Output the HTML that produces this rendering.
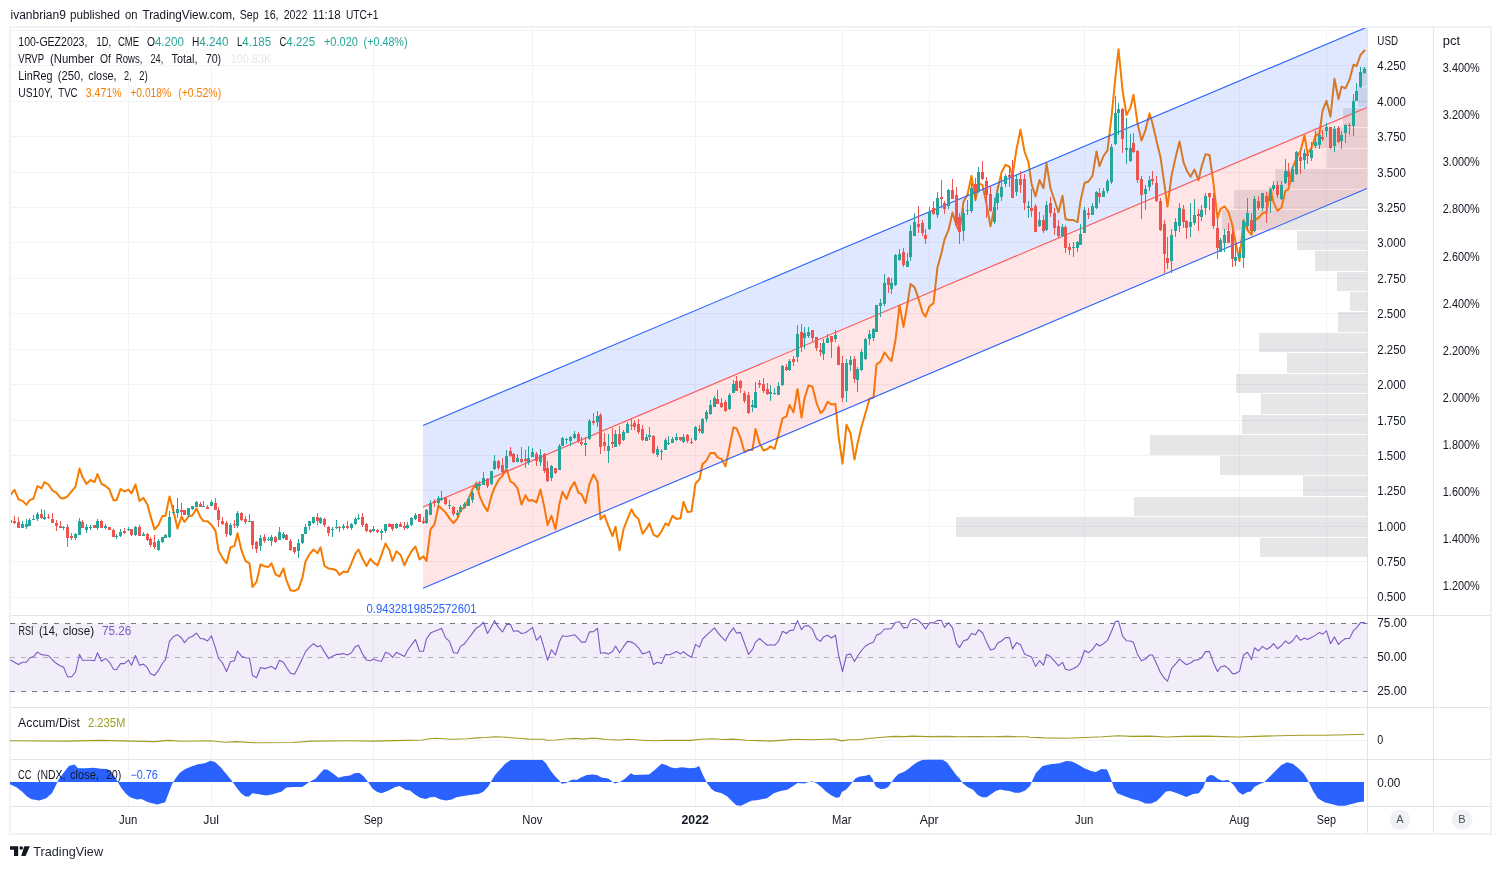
<!DOCTYPE html><html><head><meta charset="utf-8"><title>TradingView chart</title><style>html,body{margin:0;padding:0;background:#fff;overflow:hidden}body{width:1501px;height:869px;font-family:"Liberation Sans", sans-serif}svg{display:block;will-change:transform}</style></head><body><svg width="1501" height="869" viewBox="0 0 1501 869" font-family='"Liberation Sans", sans-serif'><rect x="10" y="27" width="1481.0" height="807.0" fill="#fff" stroke="#f0f1f6" stroke-width="2"/>
<line x1="128.50" y1="28.00" x2="128.50" y2="806.50" stroke="#f2f3f5" stroke-width="1"/>
<line x1="211.50" y1="28.00" x2="211.50" y2="806.50" stroke="#f2f3f5" stroke-width="1"/>
<line x1="373.50" y1="28.00" x2="373.50" y2="806.50" stroke="#f2f3f5" stroke-width="1"/>
<line x1="532.50" y1="28.00" x2="532.50" y2="806.50" stroke="#f2f3f5" stroke-width="1"/>
<line x1="695.50" y1="28.00" x2="695.50" y2="806.50" stroke="#f2f3f5" stroke-width="1"/>
<line x1="842.50" y1="28.00" x2="842.50" y2="806.50" stroke="#f2f3f5" stroke-width="1"/>
<line x1="929.50" y1="28.00" x2="929.50" y2="806.50" stroke="#f2f3f5" stroke-width="1"/>
<line x1="1084.50" y1="28.00" x2="1084.50" y2="806.50" stroke="#f2f3f5" stroke-width="1"/>
<line x1="1239.50" y1="28.00" x2="1239.50" y2="806.50" stroke="#f2f3f5" stroke-width="1"/>
<line x1="1326.50" y1="28.00" x2="1326.50" y2="806.50" stroke="#f2f3f5" stroke-width="1"/>
<line x1="11.00" y1="30.50" x2="1367.50" y2="30.50" stroke="#f2f3f5" stroke-width="1"/>
<line x1="11.00" y1="65.50" x2="1367.50" y2="65.50" stroke="#f2f3f5" stroke-width="1"/>
<line x1="11.00" y1="101.50" x2="1367.50" y2="101.50" stroke="#f2f3f5" stroke-width="1"/>
<line x1="11.00" y1="136.50" x2="1367.50" y2="136.50" stroke="#f2f3f5" stroke-width="1"/>
<line x1="11.00" y1="172.50" x2="1367.50" y2="172.50" stroke="#f2f3f5" stroke-width="1"/>
<line x1="11.00" y1="207.50" x2="1367.50" y2="207.50" stroke="#f2f3f5" stroke-width="1"/>
<line x1="11.00" y1="242.50" x2="1367.50" y2="242.50" stroke="#f2f3f5" stroke-width="1"/>
<line x1="11.00" y1="278.50" x2="1367.50" y2="278.50" stroke="#f2f3f5" stroke-width="1"/>
<line x1="11.00" y1="313.50" x2="1367.50" y2="313.50" stroke="#f2f3f5" stroke-width="1"/>
<line x1="11.00" y1="349.50" x2="1367.50" y2="349.50" stroke="#f2f3f5" stroke-width="1"/>
<line x1="11.00" y1="384.50" x2="1367.50" y2="384.50" stroke="#f2f3f5" stroke-width="1"/>
<line x1="11.00" y1="420.50" x2="1367.50" y2="420.50" stroke="#f2f3f5" stroke-width="1"/>
<line x1="11.00" y1="455.50" x2="1367.50" y2="455.50" stroke="#f2f3f5" stroke-width="1"/>
<line x1="11.00" y1="490.50" x2="1367.50" y2="490.50" stroke="#f2f3f5" stroke-width="1"/>
<line x1="11.00" y1="526.50" x2="1367.50" y2="526.50" stroke="#f2f3f5" stroke-width="1"/>
<line x1="11.00" y1="561.50" x2="1367.50" y2="561.50" stroke="#f2f3f5" stroke-width="1"/>
<line x1="11.00" y1="597.50" x2="1367.50" y2="597.50" stroke="#f2f3f5" stroke-width="1"/>
<line x1="11.00" y1="740.50" x2="1367.50" y2="740.50" stroke="#f2f3f5" stroke-width="1"/>
<g fill="#787b86" fill-opacity="0.19" shape-rendering="crispEdges">
<rect x="1362" y="67" width="5" height="19"/>
<rect x="1358" y="87" width="9" height="20"/>
<rect x="1343" y="108" width="24" height="19"/>
<rect x="1314" y="128" width="53" height="20"/>
<rect x="1327" y="149" width="40" height="19"/>
<rect x="1275" y="169" width="92" height="20"/>
<rect x="1234" y="190" width="133" height="19"/>
<rect x="1222" y="210" width="145" height="20"/>
<rect x="1297" y="231" width="70" height="19"/>
<rect x="1315" y="251" width="52" height="20"/>
<rect x="1337" y="272" width="30" height="19"/>
<rect x="1350" y="292" width="17" height="19"/>
<rect x="1338" y="312" width="29" height="20"/>
<rect x="1259" y="333" width="108" height="19"/>
<rect x="1287" y="353" width="80" height="20"/>
<rect x="1236" y="374" width="131" height="19"/>
<rect x="1261" y="394" width="106" height="20"/>
<rect x="1242" y="415" width="125" height="19"/>
<rect x="1150" y="435" width="217" height="20"/>
<rect x="1220" y="456" width="147" height="19"/>
<rect x="1303" y="476" width="64" height="20"/>
<rect x="1134" y="497" width="233" height="19"/>
<rect x="956" y="517" width="411" height="20"/>
<rect x="1260" y="538" width="107" height="19"/>
</g>
<clipPath id="cm"><rect x="11" y="28" width="1356.6" height="587"/></clipPath>
<g clip-path="url(#cm)">
<polyline points="10.5,495.0 14.5,489.9 18.5,499.4 22.5,500.9 26.5,504.8 29.5,500.3 33.5,498.5 37.5,486.0 41.5,488.4 44.5,482.1 48.5,484.5 52.5,490.5 56.5,492.9 60.5,497.9 63.5,498.5 67.5,496.4 75.5,486.6 79.5,468.6 82.5,477.0 86.5,483.9 90.5,480.0 94.5,482.1 97.5,474.0 101.5,483.9 105.5,486.0 109.5,489.6 113.5,500.3 116.5,500.3 120.5,489.0 124.5,491.4 128.5,489.6 131.5,493.5 135.5,484.5 139.5,500.9 143.5,497.9 147.5,504.8 150.5,515.9 154.5,529.4 158.5,524.9 162.5,515.9 165.5,515.9 169.5,496.4 173.5,511.4 177.5,528.5 181.5,516.5 184.5,521.9 188.5,516.5 192.5,515.3 196.5,508.4 200.5,517.4 203.5,521.0 207.5,521.3 211.5,524.9 215.5,530.9 218.5,550.4 222.5,557.9 226.5,563.3 230.5,547.4 234.5,545.9 237.5,533.3 241.5,550.4 245.5,560.9 249.5,563.3 252.5,587.0 256.5,581.9 260.5,564.5 264.5,566.3 268.5,566.9 271.5,563.3 275.5,574.4 279.5,576.5 283.5,568.4 286.5,580.4 290.5,590.3 294.5,590.9 298.5,588.8 302.5,577.4 305.5,561.5 309.5,554.3 313.5,549.5 317.5,553.4 320.5,547.4 324.5,566.0 328.5,568.4 332.5,569.0 336.5,570.5 339.5,575.0 343.5,571.4 347.5,572.3 351.5,563.3 355.5,553.4 358.5,549.5 362.5,558.5 366.5,566.0 370.5,558.8 373.5,562.4 377.5,565.4 381.5,554.9 385.5,543.5 389.5,550.4 392.5,560.9 396.5,551.3 400.5,554.9 404.5,565.4 407.5,558.5 411.5,551.3 415.5,546.5 419.5,559.4 423.5,556.4 426.5,560.9 430.5,529.4 434.5,524.3 438.5,505.7 445.5,512.4 449.5,518.4 453.5,523.2 457.5,518.4 460.5,509.7 464.5,507.9 468.5,498.9 472.5,489.2 476.5,482.7 479.5,495.9 483.5,504.9 487.5,511.2 491.5,495.9 494.5,487.7 498.5,480.2 502.5,475.7 506.5,468.7 510.5,481.7 513.5,483.2 517.5,488.4 521.5,504.6 525.5,495.2 528.5,500.7 532.5,500.1 536.5,502.4 540.5,489.6 544.5,507.9 547.5,525.2 551.5,515.7 555.5,529.2 559.5,503.4 562.5,491.7 566.5,498.9 570.5,488.4 574.5,482.1 578.5,492.9 581.5,494.1 585.5,503.1 589.5,483.9 593.5,474.5 597.5,481.7 600.5,519.2 604.5,515.3 608.5,526.3 612.5,536.2 615.5,526.9 619.5,550.3 623.5,529.3 627.5,518.9 631.5,509.3 634.5,515.3 638.5,518.9 642.5,533.8 646.5,528.4 649.5,523.4 653.5,534.7 657.5,536.8 661.5,531.4 665.5,523.4 668.5,525.4 672.5,515.9 676.5,518.9 680.5,518.3 683.5,501.8 687.5,512.0 691.5,511.4 695.5,483.5 699.5,479.3 702.5,464.3 706.5,460.4 710.5,452.9 714.5,452.9 717.5,457.4 721.5,458.9 725.5,466.4 729.5,446.9 733.5,427.4 736.5,428.3 740.5,437.9 744.5,452.0 748.5,449.9 752.5,449.9 755.5,428.9 759.5,443.3 763.5,450.5 767.5,449.0 770.5,446.3 774.5,449.0 778.5,434.9 782.5,418.4 786.5,416.3 789.5,404.9 793.5,412.4 797.5,389.0 801.5,417.6 804.5,398.5 808.5,385.4 812.5,386.8 816.5,403.0 820.5,413.0 823.5,410.5 827.5,401.9 831.5,404.5 835.5,404.0 838.5,435.9 842.5,463.7 846.5,424.7 850.5,433.2 854.5,459.6 857.5,443.4 861.5,426.9 865.5,413.0 869.5,398.8 873.5,397.7 876.5,364.3 880.5,361.7 884.5,352.3 888.5,358.0 891.5,361.0 895.5,340.0 899.5,305.4 903.5,326.9 907.5,303.9 910.5,284.1 914.5,287.1 918.5,298.7 922.5,312.2 925.5,316.7 929.5,306.2 933.5,303.2 937.5,267.2 941.5,253.0 944.5,239.5 948.5,230.2 952.5,212.5 956.5,225.7 959.5,231.7 963.5,201.7 967.5,194.5 971.5,175.8 975.5,200.2 978.5,183.0 982.5,185.2 986.5,203.9 990.5,226.4 994.5,206.9 997.5,189.7 1001.5,172.5 1005.5,164.7 1009.5,166.8 1012.5,176.2 1016.5,149.2 1020.5,129.7 1024.5,151.5 1028.5,162.4 1031.5,183.7 1035.5,196.4 1039.5,180.0 1043.5,188.2 1046.5,163.5 1050.5,188.2 1054.5,200.2 1058.5,212.2 1062.5,195.7 1065.5,219.2 1069.5,220.1 1073.5,220.1 1077.5,222.2 1080.5,200.9 1084.5,183.0 1088.5,181.5 1092.5,175.8 1096.5,151.5 1099.5,166.2 1103.5,156.0 1107.5,150.4 1111.5,116.9 1115.5,76.5 1118.5,49.2 1122.5,90.0 1126.5,115.1 1130.5,107.6 1133.5,94.8 1137.5,123.2 1141.5,140.6 1145.5,130.1 1149.5,113.2 1152.5,123.5 1156.5,140.7 1160.5,157.2 1164.5,184.9 1167.5,206.7 1171.5,175.9 1175.5,157.9 1179.5,141.5 1183.5,162.1 1186.5,169.9 1190.5,176.7 1194.5,169.5 1198.5,180.4 1201.5,166.9 1205.5,154.2 1209.5,155.0 1213.5,183.5 1217.5,218.0 1220.5,209.0 1224.5,206.3 1228.5,212.0 1232.5,225.8 1235.5,242.0 1239.5,260.7 1243.5,220.2 1247.5,230.0 1251.5,234.8 1254.5,220.2 1258.5,218.0 1262.5,213.2 1266.5,212.0 1270.5,188.3 1273.5,202.2 1277.5,210.8 1281.5,207.5 1285.5,190.6 1288.5,189.3 1292.5,168.0 1296.5,158.4 1300.5,150.9 1304.5,135.3 1307.5,153.3 1311.5,148.0 1315.5,135.9 1319.5,133.0 1322.5,111.2 1326.5,100.7 1330.5,116.7 1334.5,78.7 1338.5,99.2 1341.5,86.8 1345.5,88.3 1349.5,79.7 1353.5,64.7 1356.5,66.2 1360.5,55.0 1364.5,50.5" fill="none" stroke="#f57c00" stroke-width="2" stroke-linejoin="round" stroke-linecap="round"/>
<polygon points="423.0,425.4 1367.5,26.9 1367.5,107.3 423.0,506.9" fill="#2962ff" fill-opacity="0.15"/>
<polygon points="423.0,506.9 1367.5,107.3 1367.5,188.2 423.0,588.2" fill="#ff5252" fill-opacity="0.15"/>
<line x1="423.00" y1="425.40" x2="1367.50" y2="26.90" stroke="#2962ff" stroke-width="1.1"/>
<line x1="423.00" y1="588.20" x2="1367.50" y2="188.20" stroke="#2962ff" stroke-width="1.1"/>
<line x1="423.00" y1="506.90" x2="1367.50" y2="107.30" stroke="#ff5252" stroke-width="1.1"/>
<line x1="1359.00" y1="101.50" x2="1367.00" y2="101.50" stroke="#ef5350" stroke-width="1" stroke-dasharray="1 1" stroke-opacity="0.35"/>
<g shape-rendering="crispEdges">
<rect x="10" y="519" width="1" height="6" fill="#ef5350"/>
<rect x="9" y="520" width="3" height="3" fill="#ef5350"/>
<rect x="14" y="516" width="1" height="8" fill="#ef5350"/>
<rect x="13" y="521" width="3" height="2" fill="#ef5350"/>
<rect x="18" y="517" width="1" height="11" fill="#ef5350"/>
<rect x="17" y="522" width="3" height="6" fill="#ef5350"/>
<rect x="22" y="521" width="1" height="7" fill="#26a69a"/>
<rect x="21" y="524" width="3" height="4" fill="#26a69a"/>
<rect x="26" y="519" width="1" height="10" fill="#26a69a"/>
<rect x="25" y="524" width="3" height="3" fill="#26a69a"/>
<rect x="29" y="518" width="1" height="8" fill="#26a69a"/>
<rect x="28" y="520" width="3" height="6" fill="#26a69a"/>
<rect x="33" y="515" width="1" height="5" fill="#26a69a"/>
<rect x="32" y="519" width="3" height="1" fill="#26a69a"/>
<rect x="37" y="512" width="1" height="9" fill="#26a69a"/>
<rect x="36" y="514" width="3" height="5" fill="#26a69a"/>
<rect x="41" y="509" width="1" height="10" fill="#ef5350"/>
<rect x="40" y="514" width="3" height="4" fill="#ef5350"/>
<rect x="44" y="510" width="1" height="10" fill="#26a69a"/>
<rect x="43" y="517" width="3" height="2" fill="#26a69a"/>
<rect x="48" y="514" width="1" height="5" fill="#ef5350"/>
<rect x="47" y="517" width="3" height="1" fill="#ef5350"/>
<rect x="52" y="513" width="1" height="10" fill="#ef5350"/>
<rect x="51" y="519" width="3" height="4" fill="#ef5350"/>
<rect x="56" y="520" width="1" height="11" fill="#ef5350"/>
<rect x="55" y="523" width="3" height="3" fill="#ef5350"/>
<rect x="60" y="521" width="1" height="7" fill="#ef5350"/>
<rect x="59" y="526" width="3" height="2" fill="#ef5350"/>
<rect x="63" y="526" width="1" height="4" fill="#26a69a"/>
<rect x="62" y="527" width="3" height="1" fill="#26a69a"/>
<rect x="67" y="524" width="1" height="23" fill="#ef5350"/>
<rect x="66" y="527" width="3" height="11" fill="#ef5350"/>
<rect x="71" y="533" width="1" height="7" fill="#ef5350"/>
<rect x="70" y="536" width="3" height="2" fill="#ef5350"/>
<rect x="75" y="533" width="1" height="7" fill="#26a69a"/>
<rect x="74" y="534" width="3" height="4" fill="#26a69a"/>
<rect x="79" y="518" width="1" height="17" fill="#26a69a"/>
<rect x="78" y="521" width="3" height="14" fill="#26a69a"/>
<rect x="82" y="520" width="1" height="8" fill="#ef5350"/>
<rect x="81" y="522" width="3" height="6" fill="#ef5350"/>
<rect x="86" y="524" width="1" height="9" fill="#26a69a"/>
<rect x="85" y="527" width="3" height="3" fill="#26a69a"/>
<rect x="90" y="525" width="1" height="5" fill="#26a69a"/>
<rect x="89" y="527" width="3" height="1" fill="#26a69a"/>
<rect x="94" y="525" width="1" height="3" fill="#ef5350"/>
<rect x="93" y="525" width="3" height="3" fill="#ef5350"/>
<rect x="97" y="519" width="1" height="11" fill="#26a69a"/>
<rect x="96" y="521" width="3" height="7" fill="#26a69a"/>
<rect x="101" y="520" width="1" height="8" fill="#ef5350"/>
<rect x="100" y="521" width="3" height="7" fill="#ef5350"/>
<rect x="105" y="524" width="1" height="5" fill="#26a69a"/>
<rect x="104" y="526" width="3" height="2" fill="#26a69a"/>
<rect x="109" y="527" width="1" height="3" fill="#ef5350"/>
<rect x="108" y="527" width="3" height="3" fill="#ef5350"/>
<rect x="113" y="529" width="1" height="8" fill="#ef5350"/>
<rect x="112" y="530" width="3" height="7" fill="#ef5350"/>
<rect x="116" y="534" width="1" height="5" fill="#26a69a"/>
<rect x="115" y="536" width="3" height="1" fill="#26a69a"/>
<rect x="120" y="529" width="1" height="8" fill="#26a69a"/>
<rect x="119" y="532" width="3" height="4" fill="#26a69a"/>
<rect x="124" y="528" width="1" height="6" fill="#ef5350"/>
<rect x="123" y="531" width="3" height="2" fill="#ef5350"/>
<rect x="128" y="527" width="1" height="4" fill="#26a69a"/>
<rect x="127" y="529" width="3" height="1" fill="#26a69a"/>
<rect x="131" y="529" width="1" height="7" fill="#ef5350"/>
<rect x="130" y="529" width="3" height="6" fill="#ef5350"/>
<rect x="135" y="526" width="1" height="10" fill="#26a69a"/>
<rect x="134" y="527" width="3" height="8" fill="#26a69a"/>
<rect x="139" y="525" width="1" height="11" fill="#ef5350"/>
<rect x="138" y="527" width="3" height="9" fill="#ef5350"/>
<rect x="143" y="532" width="1" height="4" fill="#26a69a"/>
<rect x="142" y="534" width="3" height="2" fill="#26a69a"/>
<rect x="147" y="533" width="1" height="8" fill="#ef5350"/>
<rect x="146" y="534" width="3" height="6" fill="#ef5350"/>
<rect x="150" y="537" width="1" height="10" fill="#ef5350"/>
<rect x="149" y="539" width="3" height="6" fill="#ef5350"/>
<rect x="154" y="535" width="1" height="14" fill="#ef5350"/>
<rect x="153" y="542" width="3" height="5" fill="#ef5350"/>
<rect x="158" y="539" width="1" height="12" fill="#26a69a"/>
<rect x="157" y="541" width="3" height="9" fill="#26a69a"/>
<rect x="162" y="537" width="1" height="6" fill="#26a69a"/>
<rect x="161" y="537" width="3" height="5" fill="#26a69a"/>
<rect x="165" y="534" width="1" height="4" fill="#26a69a"/>
<rect x="164" y="535" width="3" height="3" fill="#26a69a"/>
<rect x="169" y="511" width="1" height="27" fill="#26a69a"/>
<rect x="168" y="517" width="3" height="20" fill="#26a69a"/>
<rect x="173" y="505" width="1" height="10" fill="#26a69a"/>
<rect x="172" y="512" width="3" height="1" fill="#26a69a"/>
<rect x="177" y="498" width="1" height="20" fill="#26a69a"/>
<rect x="176" y="509" width="3" height="4" fill="#26a69a"/>
<rect x="181" y="503" width="1" height="12" fill="#ef5350"/>
<rect x="180" y="510" width="3" height="2" fill="#ef5350"/>
<rect x="184" y="510" width="1" height="5" fill="#ef5350"/>
<rect x="183" y="510" width="3" height="5" fill="#ef5350"/>
<rect x="188" y="508" width="1" height="9" fill="#26a69a"/>
<rect x="187" y="508" width="3" height="7" fill="#26a69a"/>
<rect x="192" y="506" width="1" height="4" fill="#26a69a"/>
<rect x="191" y="506" width="3" height="3" fill="#26a69a"/>
<rect x="196" y="501" width="1" height="6" fill="#26a69a"/>
<rect x="195" y="502" width="3" height="5" fill="#26a69a"/>
<rect x="200" y="502" width="1" height="5" fill="#ef5350"/>
<rect x="199" y="504" width="3" height="3" fill="#ef5350"/>
<rect x="203" y="501" width="1" height="6" fill="#26a69a"/>
<rect x="202" y="506" width="3" height="1" fill="#26a69a"/>
<rect x="207" y="505" width="1" height="4" fill="#ef5350"/>
<rect x="206" y="507" width="3" height="2" fill="#ef5350"/>
<rect x="211" y="500" width="1" height="6" fill="#26a69a"/>
<rect x="210" y="502" width="3" height="4" fill="#26a69a"/>
<rect x="215" y="498" width="1" height="12" fill="#ef5350"/>
<rect x="214" y="503" width="3" height="7" fill="#ef5350"/>
<rect x="218" y="507" width="1" height="20" fill="#ef5350"/>
<rect x="217" y="510" width="3" height="10" fill="#ef5350"/>
<rect x="222" y="517" width="1" height="8" fill="#ef5350"/>
<rect x="221" y="521" width="3" height="3" fill="#ef5350"/>
<rect x="226" y="521" width="1" height="16" fill="#ef5350"/>
<rect x="225" y="523" width="3" height="11" fill="#ef5350"/>
<rect x="230" y="523" width="1" height="13" fill="#26a69a"/>
<rect x="229" y="525" width="3" height="10" fill="#26a69a"/>
<rect x="234" y="520" width="1" height="8" fill="#ef5350"/>
<rect x="233" y="524" width="3" height="1" fill="#ef5350"/>
<rect x="237" y="511" width="1" height="17" fill="#26a69a"/>
<rect x="236" y="513" width="3" height="13" fill="#26a69a"/>
<rect x="241" y="512" width="1" height="9" fill="#ef5350"/>
<rect x="240" y="513" width="3" height="7" fill="#ef5350"/>
<rect x="245" y="516" width="1" height="8" fill="#ef5350"/>
<rect x="244" y="519" width="3" height="3" fill="#ef5350"/>
<rect x="249" y="514" width="1" height="8" fill="#26a69a"/>
<rect x="248" y="521" width="3" height="1" fill="#26a69a"/>
<rect x="252" y="521" width="1" height="28" fill="#ef5350"/>
<rect x="251" y="521" width="3" height="24" fill="#ef5350"/>
<rect x="256" y="541" width="1" height="12" fill="#ef5350"/>
<rect x="255" y="542" width="3" height="7" fill="#ef5350"/>
<rect x="260" y="535" width="1" height="16" fill="#26a69a"/>
<rect x="259" y="538" width="3" height="8" fill="#26a69a"/>
<rect x="264" y="534" width="1" height="9" fill="#ef5350"/>
<rect x="263" y="537" width="3" height="4" fill="#ef5350"/>
<rect x="268" y="537" width="1" height="4" fill="#26a69a"/>
<rect x="267" y="539" width="3" height="1" fill="#26a69a"/>
<rect x="271" y="535" width="1" height="11" fill="#26a69a"/>
<rect x="270" y="537" width="3" height="4" fill="#26a69a"/>
<rect x="275" y="536" width="1" height="7" fill="#ef5350"/>
<rect x="274" y="537" width="3" height="5" fill="#ef5350"/>
<rect x="279" y="527" width="1" height="13" fill="#26a69a"/>
<rect x="278" y="532" width="3" height="8" fill="#26a69a"/>
<rect x="283" y="532" width="1" height="7" fill="#26a69a"/>
<rect x="282" y="534" width="3" height="4" fill="#26a69a"/>
<rect x="286" y="534" width="1" height="6" fill="#ef5350"/>
<rect x="285" y="535" width="3" height="5" fill="#ef5350"/>
<rect x="290" y="539" width="1" height="12" fill="#ef5350"/>
<rect x="289" y="541" width="3" height="9" fill="#ef5350"/>
<rect x="294" y="547" width="1" height="7" fill="#ef5350"/>
<rect x="293" y="547" width="3" height="5" fill="#ef5350"/>
<rect x="298" y="539" width="1" height="19" fill="#26a69a"/>
<rect x="297" y="543" width="3" height="8" fill="#26a69a"/>
<rect x="302" y="534" width="1" height="10" fill="#26a69a"/>
<rect x="301" y="534" width="3" height="9" fill="#26a69a"/>
<rect x="305" y="524" width="1" height="10" fill="#26a69a"/>
<rect x="304" y="527" width="3" height="7" fill="#26a69a"/>
<rect x="309" y="521" width="1" height="9" fill="#26a69a"/>
<rect x="308" y="521" width="3" height="5" fill="#26a69a"/>
<rect x="313" y="517" width="1" height="7" fill="#26a69a"/>
<rect x="312" y="517" width="3" height="6" fill="#26a69a"/>
<rect x="317" y="513" width="1" height="12" fill="#ef5350"/>
<rect x="316" y="517" width="3" height="4" fill="#ef5350"/>
<rect x="320" y="517" width="1" height="7" fill="#26a69a"/>
<rect x="319" y="518" width="3" height="5" fill="#26a69a"/>
<rect x="324" y="518" width="1" height="9" fill="#ef5350"/>
<rect x="323" y="519" width="3" height="6" fill="#ef5350"/>
<rect x="328" y="526" width="1" height="10" fill="#ef5350"/>
<rect x="327" y="527" width="3" height="6" fill="#ef5350"/>
<rect x="332" y="527" width="1" height="10" fill="#26a69a"/>
<rect x="331" y="529" width="3" height="1" fill="#26a69a"/>
<rect x="336" y="520" width="1" height="9" fill="#26a69a"/>
<rect x="335" y="527" width="3" height="1" fill="#26a69a"/>
<rect x="339" y="526" width="1" height="6" fill="#ef5350"/>
<rect x="338" y="527" width="3" height="1" fill="#ef5350"/>
<rect x="343" y="524" width="1" height="6" fill="#26a69a"/>
<rect x="342" y="526" width="3" height="2" fill="#26a69a"/>
<rect x="347" y="521" width="1" height="8" fill="#ef5350"/>
<rect x="346" y="526" width="3" height="2" fill="#ef5350"/>
<rect x="351" y="523" width="1" height="7" fill="#26a69a"/>
<rect x="350" y="524" width="3" height="4" fill="#26a69a"/>
<rect x="355" y="517" width="1" height="8" fill="#26a69a"/>
<rect x="354" y="519" width="3" height="5" fill="#26a69a"/>
<rect x="358" y="514" width="1" height="6" fill="#26a69a"/>
<rect x="357" y="518" width="3" height="1" fill="#26a69a"/>
<rect x="362" y="513" width="1" height="14" fill="#ef5350"/>
<rect x="361" y="517" width="3" height="8" fill="#ef5350"/>
<rect x="366" y="523" width="1" height="9" fill="#ef5350"/>
<rect x="365" y="524" width="3" height="7" fill="#ef5350"/>
<rect x="370" y="529" width="1" height="4" fill="#ef5350"/>
<rect x="369" y="530" width="3" height="2" fill="#ef5350"/>
<rect x="373" y="526" width="1" height="6" fill="#26a69a"/>
<rect x="372" y="529" width="3" height="2" fill="#26a69a"/>
<rect x="377" y="529" width="1" height="4" fill="#ef5350"/>
<rect x="376" y="530" width="3" height="2" fill="#ef5350"/>
<rect x="381" y="529" width="1" height="11" fill="#26a69a"/>
<rect x="380" y="531" width="3" height="2" fill="#26a69a"/>
<rect x="385" y="524" width="1" height="9" fill="#26a69a"/>
<rect x="384" y="524" width="3" height="7" fill="#26a69a"/>
<rect x="389" y="523" width="1" height="4" fill="#ef5350"/>
<rect x="388" y="524" width="3" height="3" fill="#ef5350"/>
<rect x="392" y="524" width="1" height="7" fill="#ef5350"/>
<rect x="391" y="524" width="3" height="5" fill="#ef5350"/>
<rect x="396" y="523" width="1" height="6" fill="#26a69a"/>
<rect x="395" y="524" width="3" height="4" fill="#26a69a"/>
<rect x="400" y="522" width="1" height="5" fill="#ef5350"/>
<rect x="399" y="524" width="3" height="3" fill="#ef5350"/>
<rect x="404" y="522" width="1" height="8" fill="#ef5350"/>
<rect x="403" y="526" width="3" height="2" fill="#ef5350"/>
<rect x="407" y="522" width="1" height="7" fill="#26a69a"/>
<rect x="406" y="525" width="3" height="3" fill="#26a69a"/>
<rect x="411" y="517" width="1" height="9" fill="#26a69a"/>
<rect x="410" y="518" width="3" height="7" fill="#26a69a"/>
<rect x="415" y="513" width="1" height="7" fill="#26a69a"/>
<rect x="414" y="515" width="3" height="4" fill="#26a69a"/>
<rect x="419" y="514" width="1" height="8" fill="#ef5350"/>
<rect x="418" y="514" width="3" height="8" fill="#ef5350"/>
<rect x="423" y="517" width="1" height="7" fill="#ef5350"/>
<rect x="422" y="521" width="3" height="2" fill="#ef5350"/>
<rect x="426" y="509" width="1" height="15" fill="#26a69a"/>
<rect x="425" y="510" width="3" height="13" fill="#26a69a"/>
<rect x="430" y="500" width="1" height="15" fill="#26a69a"/>
<rect x="429" y="503" width="3" height="12" fill="#26a69a"/>
<rect x="434" y="499" width="1" height="8" fill="#ef5350"/>
<rect x="433" y="501" width="3" height="2" fill="#ef5350"/>
<rect x="438" y="496" width="1" height="9" fill="#26a69a"/>
<rect x="437" y="498" width="3" height="5" fill="#26a69a"/>
<rect x="441" y="491" width="1" height="10" fill="#26a69a"/>
<rect x="440" y="498" width="3" height="2" fill="#26a69a"/>
<rect x="445" y="497" width="1" height="8" fill="#ef5350"/>
<rect x="444" y="497" width="3" height="7" fill="#ef5350"/>
<rect x="449" y="500" width="1" height="9" fill="#26a69a"/>
<rect x="448" y="505" width="3" height="1" fill="#26a69a"/>
<rect x="453" y="506" width="1" height="10" fill="#ef5350"/>
<rect x="452" y="507" width="3" height="7" fill="#ef5350"/>
<rect x="457" y="510" width="1" height="7" fill="#26a69a"/>
<rect x="456" y="513" width="3" height="2" fill="#26a69a"/>
<rect x="460" y="505" width="1" height="7" fill="#26a69a"/>
<rect x="459" y="507" width="3" height="5" fill="#26a69a"/>
<rect x="464" y="502" width="1" height="6" fill="#26a69a"/>
<rect x="463" y="504" width="3" height="4" fill="#26a69a"/>
<rect x="468" y="497" width="1" height="9" fill="#26a69a"/>
<rect x="467" y="499" width="3" height="7" fill="#26a69a"/>
<rect x="472" y="491" width="1" height="12" fill="#26a69a"/>
<rect x="471" y="493" width="3" height="7" fill="#26a69a"/>
<rect x="476" y="484" width="1" height="6" fill="#26a69a"/>
<rect x="475" y="485" width="3" height="3" fill="#26a69a"/>
<rect x="479" y="481" width="1" height="9" fill="#26a69a"/>
<rect x="478" y="484" width="3" height="2" fill="#26a69a"/>
<rect x="483" y="472" width="1" height="13" fill="#26a69a"/>
<rect x="482" y="478" width="3" height="7" fill="#26a69a"/>
<rect x="487" y="478" width="1" height="10" fill="#ef5350"/>
<rect x="486" y="479" width="3" height="7" fill="#ef5350"/>
<rect x="491" y="471" width="1" height="14" fill="#26a69a"/>
<rect x="490" y="471" width="3" height="13" fill="#26a69a"/>
<rect x="494" y="455" width="1" height="15" fill="#26a69a"/>
<rect x="493" y="461" width="3" height="8" fill="#26a69a"/>
<rect x="498" y="460" width="1" height="10" fill="#ef5350"/>
<rect x="497" y="461" width="3" height="7" fill="#ef5350"/>
<rect x="502" y="458" width="1" height="15" fill="#ef5350"/>
<rect x="501" y="465" width="3" height="7" fill="#ef5350"/>
<rect x="506" y="450" width="1" height="19" fill="#26a69a"/>
<rect x="505" y="456" width="3" height="12" fill="#26a69a"/>
<rect x="510" y="447" width="1" height="10" fill="#ef5350"/>
<rect x="509" y="451" width="3" height="5" fill="#ef5350"/>
<rect x="513" y="453" width="1" height="10" fill="#ef5350"/>
<rect x="512" y="454" width="3" height="8" fill="#ef5350"/>
<rect x="517" y="454" width="1" height="8" fill="#26a69a"/>
<rect x="516" y="458" width="3" height="4" fill="#26a69a"/>
<rect x="521" y="447" width="1" height="16" fill="#ef5350"/>
<rect x="520" y="459" width="3" height="3" fill="#ef5350"/>
<rect x="525" y="450" width="1" height="18" fill="#ef5350"/>
<rect x="524" y="459" width="3" height="2" fill="#ef5350"/>
<rect x="528" y="446" width="1" height="19" fill="#26a69a"/>
<rect x="527" y="458" width="3" height="5" fill="#26a69a"/>
<rect x="532" y="448" width="1" height="9" fill="#26a69a"/>
<rect x="531" y="452" width="3" height="5" fill="#26a69a"/>
<rect x="536" y="452" width="1" height="14" fill="#ef5350"/>
<rect x="535" y="454" width="3" height="7" fill="#ef5350"/>
<rect x="540" y="449" width="1" height="17" fill="#26a69a"/>
<rect x="539" y="455" width="3" height="7" fill="#26a69a"/>
<rect x="544" y="453" width="1" height="20" fill="#ef5350"/>
<rect x="543" y="454" width="3" height="17" fill="#ef5350"/>
<rect x="547" y="461" width="1" height="21" fill="#ef5350"/>
<rect x="546" y="468" width="3" height="13" fill="#ef5350"/>
<rect x="551" y="465" width="1" height="16" fill="#26a69a"/>
<rect x="550" y="466" width="3" height="12" fill="#26a69a"/>
<rect x="555" y="468" width="1" height="6" fill="#ef5350"/>
<rect x="554" y="468" width="3" height="5" fill="#ef5350"/>
<rect x="559" y="444" width="1" height="26" fill="#26a69a"/>
<rect x="558" y="446" width="3" height="24" fill="#26a69a"/>
<rect x="562" y="437" width="1" height="9" fill="#26a69a"/>
<rect x="561" y="438" width="3" height="8" fill="#26a69a"/>
<rect x="566" y="438" width="1" height="6" fill="#26a69a"/>
<rect x="565" y="439" width="3" height="1" fill="#26a69a"/>
<rect x="570" y="436" width="1" height="10" fill="#26a69a"/>
<rect x="569" y="437" width="3" height="4" fill="#26a69a"/>
<rect x="574" y="431" width="1" height="8" fill="#26a69a"/>
<rect x="573" y="434" width="3" height="4" fill="#26a69a"/>
<rect x="578" y="432" width="1" height="11" fill="#ef5350"/>
<rect x="577" y="434" width="3" height="7" fill="#ef5350"/>
<rect x="581" y="437" width="1" height="9" fill="#ef5350"/>
<rect x="580" y="442" width="3" height="2" fill="#ef5350"/>
<rect x="585" y="437" width="1" height="19" fill="#26a69a"/>
<rect x="584" y="443" width="3" height="2" fill="#26a69a"/>
<rect x="589" y="419" width="1" height="21" fill="#26a69a"/>
<rect x="588" y="421" width="3" height="18" fill="#26a69a"/>
<rect x="593" y="413" width="1" height="12" fill="#ef5350"/>
<rect x="592" y="421" width="3" height="2" fill="#ef5350"/>
<rect x="597" y="411" width="1" height="16" fill="#26a69a"/>
<rect x="596" y="416" width="3" height="6" fill="#26a69a"/>
<rect x="600" y="413" width="1" height="41" fill="#ef5350"/>
<rect x="599" y="415" width="3" height="32" fill="#ef5350"/>
<rect x="604" y="433" width="1" height="18" fill="#ef5350"/>
<rect x="603" y="442" width="3" height="4" fill="#ef5350"/>
<rect x="608" y="434" width="1" height="29" fill="#26a69a"/>
<rect x="607" y="446" width="3" height="5" fill="#26a69a"/>
<rect x="612" y="428" width="1" height="20" fill="#ef5350"/>
<rect x="611" y="442" width="3" height="2" fill="#ef5350"/>
<rect x="615" y="430" width="1" height="17" fill="#26a69a"/>
<rect x="614" y="434" width="3" height="13" fill="#26a69a"/>
<rect x="619" y="426" width="1" height="20" fill="#ef5350"/>
<rect x="618" y="434" width="3" height="10" fill="#ef5350"/>
<rect x="623" y="430" width="1" height="11" fill="#26a69a"/>
<rect x="622" y="432" width="3" height="8" fill="#26a69a"/>
<rect x="627" y="422" width="1" height="11" fill="#26a69a"/>
<rect x="626" y="424" width="3" height="9" fill="#26a69a"/>
<rect x="631" y="419" width="1" height="11" fill="#ef5350"/>
<rect x="630" y="425" width="3" height="1" fill="#ef5350"/>
<rect x="634" y="420" width="1" height="10" fill="#ef5350"/>
<rect x="633" y="423" width="3" height="4" fill="#ef5350"/>
<rect x="638" y="419" width="1" height="15" fill="#ef5350"/>
<rect x="637" y="424" width="3" height="8" fill="#ef5350"/>
<rect x="642" y="425" width="1" height="16" fill="#ef5350"/>
<rect x="641" y="429" width="3" height="11" fill="#ef5350"/>
<rect x="646" y="434" width="1" height="7" fill="#26a69a"/>
<rect x="645" y="437" width="3" height="4" fill="#26a69a"/>
<rect x="649" y="427" width="1" height="13" fill="#26a69a"/>
<rect x="648" y="435" width="3" height="2" fill="#26a69a"/>
<rect x="653" y="435" width="1" height="19" fill="#ef5350"/>
<rect x="652" y="436" width="3" height="17" fill="#ef5350"/>
<rect x="657" y="446" width="1" height="11" fill="#26a69a"/>
<rect x="656" y="449" width="3" height="6" fill="#26a69a"/>
<rect x="661" y="449" width="1" height="11" fill="#26a69a"/>
<rect x="660" y="451" width="3" height="1" fill="#26a69a"/>
<rect x="665" y="438" width="1" height="12" fill="#26a69a"/>
<rect x="664" y="440" width="3" height="10" fill="#26a69a"/>
<rect x="668" y="436" width="1" height="9" fill="#26a69a"/>
<rect x="667" y="443" width="3" height="1" fill="#26a69a"/>
<rect x="672" y="437" width="1" height="6" fill="#26a69a"/>
<rect x="671" y="439" width="3" height="4" fill="#26a69a"/>
<rect x="676" y="433" width="1" height="8" fill="#26a69a"/>
<rect x="675" y="437" width="3" height="3" fill="#26a69a"/>
<rect x="680" y="437" width="1" height="4" fill="#ef5350"/>
<rect x="679" y="437" width="3" height="3" fill="#ef5350"/>
<rect x="683" y="434" width="1" height="9" fill="#26a69a"/>
<rect x="682" y="437" width="3" height="5" fill="#26a69a"/>
<rect x="687" y="434" width="1" height="9" fill="#ef5350"/>
<rect x="686" y="435" width="3" height="6" fill="#ef5350"/>
<rect x="691" y="438" width="1" height="6" fill="#ef5350"/>
<rect x="690" y="442" width="3" height="1" fill="#ef5350"/>
<rect x="695" y="426" width="1" height="15" fill="#26a69a"/>
<rect x="694" y="427" width="3" height="13" fill="#26a69a"/>
<rect x="699" y="425" width="1" height="8" fill="#ef5350"/>
<rect x="698" y="429" width="3" height="2" fill="#ef5350"/>
<rect x="702" y="418" width="1" height="16" fill="#26a69a"/>
<rect x="701" y="419" width="3" height="14" fill="#26a69a"/>
<rect x="706" y="410" width="1" height="12" fill="#26a69a"/>
<rect x="705" y="412" width="3" height="7" fill="#26a69a"/>
<rect x="710" y="400" width="1" height="15" fill="#26a69a"/>
<rect x="709" y="405" width="3" height="9" fill="#26a69a"/>
<rect x="714" y="396" width="1" height="11" fill="#26a69a"/>
<rect x="713" y="398" width="3" height="9" fill="#26a69a"/>
<rect x="717" y="390" width="1" height="14" fill="#ef5350"/>
<rect x="716" y="399" width="3" height="5" fill="#ef5350"/>
<rect x="721" y="398" width="1" height="10" fill="#ef5350"/>
<rect x="720" y="403" width="3" height="4" fill="#ef5350"/>
<rect x="725" y="400" width="1" height="12" fill="#ef5350"/>
<rect x="724" y="402" width="3" height="9" fill="#ef5350"/>
<rect x="729" y="393" width="1" height="17" fill="#26a69a"/>
<rect x="728" y="395" width="3" height="14" fill="#26a69a"/>
<rect x="733" y="380" width="1" height="13" fill="#26a69a"/>
<rect x="732" y="384" width="3" height="9" fill="#26a69a"/>
<rect x="736" y="376" width="1" height="15" fill="#ef5350"/>
<rect x="735" y="381" width="3" height="10" fill="#ef5350"/>
<rect x="740" y="380" width="1" height="13" fill="#ef5350"/>
<rect x="739" y="381" width="3" height="7" fill="#ef5350"/>
<rect x="744" y="391" width="1" height="12" fill="#ef5350"/>
<rect x="743" y="393" width="3" height="8" fill="#ef5350"/>
<rect x="748" y="392" width="1" height="22" fill="#ef5350"/>
<rect x="747" y="395" width="3" height="18" fill="#ef5350"/>
<rect x="752" y="400" width="1" height="12" fill="#26a69a"/>
<rect x="751" y="405" width="3" height="2" fill="#26a69a"/>
<rect x="755" y="382" width="1" height="26" fill="#26a69a"/>
<rect x="754" y="392" width="3" height="16" fill="#26a69a"/>
<rect x="759" y="380" width="1" height="8" fill="#ef5350"/>
<rect x="758" y="383" width="3" height="2" fill="#ef5350"/>
<rect x="763" y="378" width="1" height="15" fill="#ef5350"/>
<rect x="762" y="384" width="3" height="7" fill="#ef5350"/>
<rect x="767" y="383" width="1" height="12" fill="#ef5350"/>
<rect x="766" y="389" width="3" height="5" fill="#ef5350"/>
<rect x="770" y="385" width="1" height="16" fill="#26a69a"/>
<rect x="769" y="392" width="3" height="2" fill="#26a69a"/>
<rect x="774" y="388" width="1" height="7" fill="#26a69a"/>
<rect x="773" y="393" width="3" height="1" fill="#26a69a"/>
<rect x="778" y="382" width="1" height="13" fill="#26a69a"/>
<rect x="777" y="386" width="3" height="9" fill="#26a69a"/>
<rect x="782" y="365" width="1" height="21" fill="#26a69a"/>
<rect x="781" y="366" width="3" height="19" fill="#26a69a"/>
<rect x="786" y="364" width="1" height="7" fill="#ef5350"/>
<rect x="785" y="367" width="3" height="3" fill="#ef5350"/>
<rect x="789" y="359" width="1" height="12" fill="#26a69a"/>
<rect x="788" y="361" width="3" height="9" fill="#26a69a"/>
<rect x="793" y="356" width="1" height="10" fill="#ef5350"/>
<rect x="792" y="359" width="3" height="3" fill="#ef5350"/>
<rect x="797" y="325" width="1" height="37" fill="#26a69a"/>
<rect x="796" y="334" width="3" height="23" fill="#26a69a"/>
<rect x="801" y="324" width="1" height="28" fill="#ef5350"/>
<rect x="800" y="332" width="3" height="15" fill="#ef5350"/>
<rect x="804" y="327" width="1" height="22" fill="#26a69a"/>
<rect x="803" y="333" width="3" height="5" fill="#26a69a"/>
<rect x="808" y="327" width="1" height="11" fill="#26a69a"/>
<rect x="807" y="332" width="3" height="4" fill="#26a69a"/>
<rect x="812" y="330" width="1" height="12" fill="#ef5350"/>
<rect x="811" y="330" width="3" height="8" fill="#ef5350"/>
<rect x="816" y="337" width="1" height="14" fill="#ef5350"/>
<rect x="815" y="337" width="3" height="11" fill="#ef5350"/>
<rect x="820" y="343" width="1" height="13" fill="#ef5350"/>
<rect x="819" y="350" width="3" height="2" fill="#ef5350"/>
<rect x="823" y="339" width="1" height="21" fill="#26a69a"/>
<rect x="822" y="343" width="3" height="11" fill="#26a69a"/>
<rect x="827" y="334" width="1" height="9" fill="#26a69a"/>
<rect x="826" y="338" width="3" height="5" fill="#26a69a"/>
<rect x="831" y="336" width="1" height="22" fill="#ef5350"/>
<rect x="830" y="336" width="3" height="6" fill="#ef5350"/>
<rect x="835" y="330" width="1" height="12" fill="#26a69a"/>
<rect x="834" y="335" width="3" height="4" fill="#26a69a"/>
<rect x="838" y="345" width="1" height="20" fill="#ef5350"/>
<rect x="837" y="347" width="3" height="18" fill="#ef5350"/>
<rect x="842" y="356" width="1" height="46" fill="#ef5350"/>
<rect x="841" y="363" width="3" height="35" fill="#ef5350"/>
<rect x="846" y="359" width="1" height="43" fill="#26a69a"/>
<rect x="845" y="363" width="3" height="28" fill="#26a69a"/>
<rect x="850" y="356" width="1" height="15" fill="#26a69a"/>
<rect x="849" y="360" width="3" height="5" fill="#26a69a"/>
<rect x="854" y="356" width="1" height="27" fill="#ef5350"/>
<rect x="853" y="359" width="3" height="20" fill="#ef5350"/>
<rect x="857" y="367" width="1" height="25" fill="#26a69a"/>
<rect x="856" y="369" width="3" height="11" fill="#26a69a"/>
<rect x="861" y="349" width="1" height="22" fill="#26a69a"/>
<rect x="860" y="352" width="3" height="18" fill="#26a69a"/>
<rect x="865" y="338" width="1" height="22" fill="#26a69a"/>
<rect x="864" y="339" width="3" height="20" fill="#26a69a"/>
<rect x="869" y="330" width="1" height="15" fill="#26a69a"/>
<rect x="868" y="334" width="3" height="5" fill="#26a69a"/>
<rect x="873" y="328" width="1" height="13" fill="#26a69a"/>
<rect x="872" y="329" width="3" height="9" fill="#26a69a"/>
<rect x="876" y="305" width="1" height="27" fill="#26a69a"/>
<rect x="875" y="305" width="3" height="27" fill="#26a69a"/>
<rect x="880" y="299" width="1" height="18" fill="#26a69a"/>
<rect x="879" y="303" width="3" height="3" fill="#26a69a"/>
<rect x="884" y="274" width="1" height="32" fill="#26a69a"/>
<rect x="883" y="283" width="3" height="21" fill="#26a69a"/>
<rect x="888" y="277" width="1" height="16" fill="#ef5350"/>
<rect x="887" y="278" width="3" height="7" fill="#ef5350"/>
<rect x="891" y="278" width="1" height="16" fill="#26a69a"/>
<rect x="890" y="283" width="3" height="6" fill="#26a69a"/>
<rect x="895" y="254" width="1" height="32" fill="#26a69a"/>
<rect x="894" y="255" width="3" height="30" fill="#26a69a"/>
<rect x="899" y="249" width="1" height="12" fill="#26a69a"/>
<rect x="898" y="254" width="3" height="6" fill="#26a69a"/>
<rect x="903" y="248" width="1" height="19" fill="#ef5350"/>
<rect x="902" y="252" width="3" height="13" fill="#ef5350"/>
<rect x="907" y="253" width="1" height="14" fill="#26a69a"/>
<rect x="906" y="261" width="3" height="6" fill="#26a69a"/>
<rect x="910" y="225" width="1" height="36" fill="#26a69a"/>
<rect x="909" y="231" width="3" height="26" fill="#26a69a"/>
<rect x="914" y="213" width="1" height="23" fill="#26a69a"/>
<rect x="913" y="222" width="3" height="14" fill="#26a69a"/>
<rect x="918" y="206" width="1" height="27" fill="#ef5350"/>
<rect x="917" y="224" width="3" height="3" fill="#ef5350"/>
<rect x="922" y="220" width="1" height="16" fill="#ef5350"/>
<rect x="921" y="223" width="3" height="10" fill="#ef5350"/>
<rect x="925" y="229" width="1" height="15" fill="#ef5350"/>
<rect x="924" y="235" width="3" height="4" fill="#ef5350"/>
<rect x="929" y="207" width="1" height="23" fill="#26a69a"/>
<rect x="928" y="212" width="3" height="17" fill="#26a69a"/>
<rect x="933" y="201" width="1" height="14" fill="#ef5350"/>
<rect x="932" y="208" width="3" height="6" fill="#ef5350"/>
<rect x="937" y="192" width="1" height="26" fill="#26a69a"/>
<rect x="936" y="198" width="3" height="17" fill="#26a69a"/>
<rect x="941" y="180" width="1" height="28" fill="#ef5350"/>
<rect x="940" y="197" width="3" height="2" fill="#ef5350"/>
<rect x="944" y="201" width="1" height="13" fill="#ef5350"/>
<rect x="943" y="203" width="3" height="6" fill="#ef5350"/>
<rect x="948" y="189" width="1" height="20" fill="#26a69a"/>
<rect x="947" y="190" width="3" height="16" fill="#26a69a"/>
<rect x="952" y="179" width="1" height="20" fill="#ef5350"/>
<rect x="951" y="190" width="3" height="9" fill="#ef5350"/>
<rect x="956" y="187" width="1" height="38" fill="#ef5350"/>
<rect x="955" y="195" width="3" height="30" fill="#ef5350"/>
<rect x="959" y="213" width="1" height="31" fill="#ef5350"/>
<rect x="958" y="217" width="3" height="15" fill="#ef5350"/>
<rect x="963" y="208" width="1" height="33" fill="#26a69a"/>
<rect x="962" y="213" width="3" height="18" fill="#26a69a"/>
<rect x="967" y="200" width="1" height="15" fill="#26a69a"/>
<rect x="966" y="210" width="3" height="1" fill="#26a69a"/>
<rect x="971" y="183" width="1" height="30" fill="#26a69a"/>
<rect x="970" y="188" width="3" height="23" fill="#26a69a"/>
<rect x="975" y="178" width="1" height="23" fill="#ef5350"/>
<rect x="974" y="184" width="3" height="8" fill="#ef5350"/>
<rect x="978" y="167" width="1" height="26" fill="#26a69a"/>
<rect x="977" y="172" width="3" height="20" fill="#26a69a"/>
<rect x="982" y="161" width="1" height="19" fill="#ef5350"/>
<rect x="981" y="172" width="3" height="7" fill="#ef5350"/>
<rect x="986" y="177" width="1" height="41" fill="#ef5350"/>
<rect x="985" y="181" width="3" height="14" fill="#ef5350"/>
<rect x="990" y="186" width="1" height="26" fill="#ef5350"/>
<rect x="989" y="194" width="3" height="17" fill="#ef5350"/>
<rect x="994" y="198" width="1" height="26" fill="#26a69a"/>
<rect x="993" y="207" width="3" height="15" fill="#26a69a"/>
<rect x="997" y="186" width="1" height="24" fill="#26a69a"/>
<rect x="996" y="193" width="3" height="10" fill="#26a69a"/>
<rect x="1001" y="176" width="1" height="25" fill="#26a69a"/>
<rect x="1000" y="187" width="3" height="10" fill="#26a69a"/>
<rect x="1005" y="174" width="1" height="13" fill="#26a69a"/>
<rect x="1004" y="176" width="3" height="8" fill="#26a69a"/>
<rect x="1009" y="166" width="1" height="21" fill="#ef5350"/>
<rect x="1008" y="175" width="3" height="2" fill="#ef5350"/>
<rect x="1012" y="160" width="1" height="38" fill="#ef5350"/>
<rect x="1011" y="174" width="3" height="24" fill="#ef5350"/>
<rect x="1016" y="174" width="1" height="22" fill="#26a69a"/>
<rect x="1015" y="179" width="3" height="13" fill="#26a69a"/>
<rect x="1020" y="171" width="1" height="22" fill="#ef5350"/>
<rect x="1019" y="179" width="3" height="6" fill="#ef5350"/>
<rect x="1024" y="174" width="1" height="36" fill="#ef5350"/>
<rect x="1023" y="179" width="3" height="24" fill="#ef5350"/>
<rect x="1028" y="201" width="1" height="17" fill="#26a69a"/>
<rect x="1027" y="206" width="3" height="2" fill="#26a69a"/>
<rect x="1031" y="189" width="1" height="28" fill="#ef5350"/>
<rect x="1030" y="208" width="3" height="3" fill="#ef5350"/>
<rect x="1035" y="204" width="1" height="28" fill="#ef5350"/>
<rect x="1034" y="206" width="3" height="26" fill="#ef5350"/>
<rect x="1039" y="212" width="1" height="15" fill="#26a69a"/>
<rect x="1038" y="220" width="3" height="6" fill="#26a69a"/>
<rect x="1043" y="215" width="1" height="18" fill="#ef5350"/>
<rect x="1042" y="220" width="3" height="11" fill="#ef5350"/>
<rect x="1046" y="201" width="1" height="30" fill="#26a69a"/>
<rect x="1045" y="205" width="3" height="25" fill="#26a69a"/>
<rect x="1050" y="197" width="1" height="20" fill="#ef5350"/>
<rect x="1049" y="203" width="3" height="10" fill="#ef5350"/>
<rect x="1054" y="208" width="1" height="27" fill="#ef5350"/>
<rect x="1053" y="213" width="3" height="15" fill="#ef5350"/>
<rect x="1058" y="220" width="1" height="18" fill="#ef5350"/>
<rect x="1057" y="226" width="3" height="10" fill="#ef5350"/>
<rect x="1062" y="224" width="1" height="13" fill="#26a69a"/>
<rect x="1061" y="227" width="3" height="9" fill="#26a69a"/>
<rect x="1065" y="225" width="1" height="28" fill="#ef5350"/>
<rect x="1064" y="227" width="3" height="21" fill="#ef5350"/>
<rect x="1069" y="243" width="1" height="12" fill="#ef5350"/>
<rect x="1068" y="247" width="3" height="3" fill="#ef5350"/>
<rect x="1073" y="242" width="1" height="15" fill="#26a69a"/>
<rect x="1072" y="247" width="3" height="1" fill="#26a69a"/>
<rect x="1077" y="241" width="1" height="11" fill="#26a69a"/>
<rect x="1076" y="242" width="3" height="6" fill="#26a69a"/>
<rect x="1080" y="224" width="1" height="21" fill="#26a69a"/>
<rect x="1079" y="234" width="3" height="11" fill="#26a69a"/>
<rect x="1084" y="207" width="1" height="26" fill="#26a69a"/>
<rect x="1083" y="210" width="3" height="23" fill="#26a69a"/>
<rect x="1088" y="208" width="1" height="11" fill="#ef5350"/>
<rect x="1087" y="213" width="3" height="2" fill="#ef5350"/>
<rect x="1092" y="203" width="1" height="12" fill="#26a69a"/>
<rect x="1091" y="206" width="3" height="9" fill="#26a69a"/>
<rect x="1096" y="191" width="1" height="18" fill="#26a69a"/>
<rect x="1095" y="192" width="3" height="16" fill="#26a69a"/>
<rect x="1099" y="188" width="1" height="15" fill="#ef5350"/>
<rect x="1098" y="193" width="3" height="4" fill="#ef5350"/>
<rect x="1103" y="188" width="1" height="9" fill="#26a69a"/>
<rect x="1102" y="191" width="3" height="6" fill="#26a69a"/>
<rect x="1107" y="179" width="1" height="14" fill="#26a69a"/>
<rect x="1106" y="181" width="3" height="10" fill="#26a69a"/>
<rect x="1111" y="144" width="1" height="40" fill="#26a69a"/>
<rect x="1110" y="147" width="3" height="35" fill="#26a69a"/>
<rect x="1115" y="96" width="1" height="49" fill="#26a69a"/>
<rect x="1114" y="113" width="3" height="31" fill="#26a69a"/>
<rect x="1118" y="103" width="1" height="32" fill="#26a69a"/>
<rect x="1117" y="109" width="3" height="4" fill="#26a69a"/>
<rect x="1122" y="108" width="1" height="45" fill="#ef5350"/>
<rect x="1121" y="109" width="3" height="30" fill="#ef5350"/>
<rect x="1126" y="118" width="1" height="46" fill="#26a69a"/>
<rect x="1125" y="148" width="3" height="2" fill="#26a69a"/>
<rect x="1130" y="134" width="1" height="28" fill="#26a69a"/>
<rect x="1129" y="148" width="3" height="13" fill="#26a69a"/>
<rect x="1133" y="133" width="1" height="20" fill="#ef5350"/>
<rect x="1132" y="143" width="3" height="9" fill="#ef5350"/>
<rect x="1137" y="150" width="1" height="33" fill="#ef5350"/>
<rect x="1136" y="151" width="3" height="29" fill="#ef5350"/>
<rect x="1141" y="176" width="1" height="43" fill="#ef5350"/>
<rect x="1140" y="179" width="3" height="16" fill="#ef5350"/>
<rect x="1145" y="185" width="1" height="25" fill="#26a69a"/>
<rect x="1144" y="189" width="3" height="5" fill="#26a69a"/>
<rect x="1149" y="176" width="1" height="15" fill="#26a69a"/>
<rect x="1148" y="180" width="3" height="7" fill="#26a69a"/>
<rect x="1152" y="171" width="1" height="14" fill="#ef5350"/>
<rect x="1151" y="179" width="3" height="2" fill="#ef5350"/>
<rect x="1156" y="176" width="1" height="26" fill="#ef5350"/>
<rect x="1155" y="183" width="3" height="18" fill="#ef5350"/>
<rect x="1160" y="198" width="1" height="33" fill="#ef5350"/>
<rect x="1159" y="201" width="3" height="29" fill="#ef5350"/>
<rect x="1164" y="220" width="1" height="53" fill="#ef5350"/>
<rect x="1163" y="224" width="3" height="30" fill="#ef5350"/>
<rect x="1167" y="237" width="1" height="32" fill="#ef5350"/>
<rect x="1166" y="258" width="3" height="5" fill="#ef5350"/>
<rect x="1171" y="229" width="1" height="44" fill="#26a69a"/>
<rect x="1170" y="235" width="3" height="26" fill="#26a69a"/>
<rect x="1175" y="218" width="1" height="19" fill="#26a69a"/>
<rect x="1174" y="222" width="3" height="9" fill="#26a69a"/>
<rect x="1179" y="203" width="1" height="29" fill="#26a69a"/>
<rect x="1178" y="208" width="3" height="18" fill="#26a69a"/>
<rect x="1183" y="205" width="1" height="23" fill="#ef5350"/>
<rect x="1182" y="209" width="3" height="13" fill="#ef5350"/>
<rect x="1186" y="220" width="1" height="19" fill="#ef5350"/>
<rect x="1185" y="221" width="3" height="7" fill="#ef5350"/>
<rect x="1190" y="203" width="1" height="34" fill="#26a69a"/>
<rect x="1189" y="222" width="3" height="5" fill="#26a69a"/>
<rect x="1194" y="199" width="1" height="26" fill="#26a69a"/>
<rect x="1193" y="215" width="3" height="8" fill="#26a69a"/>
<rect x="1198" y="209" width="1" height="22" fill="#ef5350"/>
<rect x="1197" y="214" width="3" height="2" fill="#ef5350"/>
<rect x="1201" y="205" width="1" height="16" fill="#26a69a"/>
<rect x="1200" y="210" width="3" height="7" fill="#26a69a"/>
<rect x="1205" y="193" width="1" height="22" fill="#26a69a"/>
<rect x="1204" y="196" width="3" height="12" fill="#26a69a"/>
<rect x="1209" y="193" width="1" height="17" fill="#ef5350"/>
<rect x="1208" y="193" width="3" height="4" fill="#ef5350"/>
<rect x="1213" y="193" width="1" height="36" fill="#ef5350"/>
<rect x="1212" y="198" width="3" height="28" fill="#ef5350"/>
<rect x="1217" y="218" width="1" height="41" fill="#ef5350"/>
<rect x="1216" y="228" width="3" height="20" fill="#ef5350"/>
<rect x="1220" y="238" width="1" height="14" fill="#26a69a"/>
<rect x="1219" y="240" width="3" height="12" fill="#26a69a"/>
<rect x="1224" y="229" width="1" height="23" fill="#26a69a"/>
<rect x="1223" y="235" width="3" height="8" fill="#26a69a"/>
<rect x="1228" y="223" width="1" height="20" fill="#ef5350"/>
<rect x="1227" y="231" width="3" height="12" fill="#ef5350"/>
<rect x="1232" y="230" width="1" height="37" fill="#ef5350"/>
<rect x="1231" y="234" width="3" height="25" fill="#ef5350"/>
<rect x="1235" y="243" width="1" height="23" fill="#26a69a"/>
<rect x="1234" y="257" width="3" height="4" fill="#26a69a"/>
<rect x="1239" y="247" width="1" height="15" fill="#26a69a"/>
<rect x="1238" y="253" width="3" height="5" fill="#26a69a"/>
<rect x="1243" y="220" width="1" height="48" fill="#26a69a"/>
<rect x="1242" y="221" width="3" height="37" fill="#26a69a"/>
<rect x="1247" y="198" width="1" height="32" fill="#26a69a"/>
<rect x="1246" y="213" width="3" height="13" fill="#26a69a"/>
<rect x="1251" y="213" width="1" height="19" fill="#ef5350"/>
<rect x="1250" y="220" width="3" height="11" fill="#ef5350"/>
<rect x="1254" y="196" width="1" height="36" fill="#26a69a"/>
<rect x="1253" y="199" width="3" height="32" fill="#26a69a"/>
<rect x="1258" y="196" width="1" height="14" fill="#ef5350"/>
<rect x="1257" y="201" width="3" height="7" fill="#ef5350"/>
<rect x="1262" y="193" width="1" height="18" fill="#26a69a"/>
<rect x="1261" y="193" width="3" height="15" fill="#26a69a"/>
<rect x="1266" y="192" width="1" height="31" fill="#ef5350"/>
<rect x="1265" y="196" width="3" height="6" fill="#ef5350"/>
<rect x="1270" y="188" width="1" height="25" fill="#26a69a"/>
<rect x="1269" y="190" width="3" height="11" fill="#26a69a"/>
<rect x="1273" y="181" width="1" height="10" fill="#26a69a"/>
<rect x="1272" y="185" width="3" height="4" fill="#26a69a"/>
<rect x="1277" y="181" width="1" height="17" fill="#ef5350"/>
<rect x="1276" y="185" width="3" height="10" fill="#ef5350"/>
<rect x="1281" y="181" width="1" height="19" fill="#26a69a"/>
<rect x="1280" y="185" width="3" height="14" fill="#26a69a"/>
<rect x="1285" y="159" width="1" height="25" fill="#26a69a"/>
<rect x="1284" y="171" width="3" height="12" fill="#26a69a"/>
<rect x="1288" y="163" width="1" height="22" fill="#ef5350"/>
<rect x="1287" y="171" width="3" height="6" fill="#ef5350"/>
<rect x="1292" y="166" width="1" height="16" fill="#26a69a"/>
<rect x="1291" y="169" width="3" height="13" fill="#26a69a"/>
<rect x="1296" y="151" width="1" height="24" fill="#26a69a"/>
<rect x="1295" y="152" width="3" height="22" fill="#26a69a"/>
<rect x="1300" y="151" width="1" height="23" fill="#ef5350"/>
<rect x="1299" y="157" width="3" height="4" fill="#ef5350"/>
<rect x="1304" y="149" width="1" height="20" fill="#26a69a"/>
<rect x="1303" y="153" width="3" height="7" fill="#26a69a"/>
<rect x="1307" y="153" width="1" height="11" fill="#ef5350"/>
<rect x="1306" y="154" width="3" height="2" fill="#ef5350"/>
<rect x="1311" y="142" width="1" height="19" fill="#26a69a"/>
<rect x="1310" y="150" width="3" height="8" fill="#26a69a"/>
<rect x="1315" y="131" width="1" height="17" fill="#26a69a"/>
<rect x="1314" y="142" width="3" height="4" fill="#26a69a"/>
<rect x="1319" y="130" width="1" height="19" fill="#26a69a"/>
<rect x="1318" y="135" width="3" height="10" fill="#26a69a"/>
<rect x="1322" y="130" width="1" height="11" fill="#ef5350"/>
<rect x="1321" y="137" width="3" height="2" fill="#ef5350"/>
<rect x="1326" y="123" width="1" height="14" fill="#26a69a"/>
<rect x="1325" y="127" width="3" height="4" fill="#26a69a"/>
<rect x="1330" y="127" width="1" height="22" fill="#ef5350"/>
<rect x="1329" y="127" width="3" height="21" fill="#ef5350"/>
<rect x="1334" y="126" width="1" height="26" fill="#26a69a"/>
<rect x="1333" y="129" width="3" height="17" fill="#26a69a"/>
<rect x="1338" y="126" width="1" height="17" fill="#ef5350"/>
<rect x="1337" y="128" width="3" height="14" fill="#ef5350"/>
<rect x="1341" y="131" width="1" height="18" fill="#26a69a"/>
<rect x="1340" y="135" width="3" height="6" fill="#26a69a"/>
<rect x="1345" y="124" width="1" height="19" fill="#26a69a"/>
<rect x="1344" y="125" width="3" height="8" fill="#26a69a"/>
<rect x="1349" y="123" width="1" height="12" fill="#ef5350"/>
<rect x="1348" y="125" width="3" height="1" fill="#ef5350"/>
<rect x="1353" y="94" width="1" height="42" fill="#26a69a"/>
<rect x="1352" y="101" width="3" height="25" fill="#26a69a"/>
<rect x="1356" y="83" width="1" height="18" fill="#26a69a"/>
<rect x="1355" y="91" width="3" height="10" fill="#26a69a"/>
<rect x="1360" y="67" width="1" height="21" fill="#26a69a"/>
<rect x="1359" y="72" width="3" height="15" fill="#26a69a"/>
<rect x="1364" y="67" width="1" height="7" fill="#26a69a"/>
<rect x="1363" y="69" width="3" height="4" fill="#26a69a"/>
</g>
</g>
<text x="366.5" y="612.8" font-size="12" fill="#2962ff" text-anchor="start" textLength="110.0" lengthAdjust="spacingAndGlyphs">0.9432819852572601</text>
<line x1="11.00" y1="615.50" x2="1491.00" y2="615.50" stroke="#e0e3eb" stroke-width="1"/>
<line x1="11.00" y1="707.50" x2="1491.00" y2="707.50" stroke="#e0e3eb" stroke-width="1"/>
<line x1="11.00" y1="759.50" x2="1491.00" y2="759.50" stroke="#e0e3eb" stroke-width="1"/>
<line x1="11.00" y1="806.50" x2="1491.00" y2="806.50" stroke="#e0e3eb" stroke-width="1"/>
<line x1="1367.50" y1="28.00" x2="1367.50" y2="833.00" stroke="#e0e3eb" stroke-width="1"/>
<line x1="1433.50" y1="28.00" x2="1433.50" y2="833.00" stroke="#e0e3eb" stroke-width="1"/>
<rect x="11.00" y="623.50" width="1356.50" height="68.00" fill="#7e57c2" fill-opacity="0.1"/>
<line x1="10.00" y1="623.50" x2="1367.50" y2="623.50" stroke="#787b86" stroke-width="1" stroke-dasharray="5 6"/>
<line x1="10.00" y1="657.50" x2="1367.50" y2="657.50" stroke="#787b86" stroke-width="1" stroke-dasharray="5 6" stroke-opacity="0.55"/>
<line x1="10.00" y1="691.50" x2="1367.50" y2="691.50" stroke="#787b86" stroke-width="1" stroke-dasharray="5 6"/>
<polyline points="10.5,660.0 14.5,662.3 18.5,664.6 22.5,662.3 26.5,662.3 29.5,658.0 33.5,656.6 37.5,652.1 41.5,654.6 44.5,655.0 48.5,655.7 52.5,660.0 56.5,663.6 60.5,665.9 63.5,667.0 67.5,676.6 71.5,677.0 75.5,672.0 79.5,654.4 82.5,660.2 86.5,660.2 90.5,660.2 94.5,660.7 97.5,652.8 101.5,661.2 105.5,658.4 109.5,662.3 113.5,669.3 116.5,669.8 120.5,663.6 124.5,663.6 128.5,660.2 131.5,665.2 135.5,655.5 139.5,665.2 143.5,664.1 147.5,667.9 150.5,673.8 154.5,675.4 158.5,670.4 162.5,663.0 165.5,659.6 169.5,641.4 173.5,636.5 177.5,634.7 181.5,638.0 184.5,642.6 188.5,638.0 192.5,636.2 196.5,633.1 200.5,638.7 203.5,638.7 207.5,641.0 211.5,635.8 215.5,648.2 218.5,658.4 222.5,663.0 226.5,671.6 230.5,661.8 234.5,660.7 237.5,651.0 241.5,656.2 245.5,657.8 249.5,658.0 252.5,675.4 256.5,677.7 260.5,667.5 264.5,668.6 268.5,667.5 271.5,666.4 275.5,669.3 279.5,660.2 283.5,662.3 286.5,667.5 290.5,673.2 294.5,674.3 298.5,666.4 302.5,658.4 305.5,651.6 309.5,647.1 313.5,643.7 317.5,646.7 320.5,645.5 324.5,652.1 328.5,658.4 332.5,656.2 336.5,654.4 339.5,654.4 343.5,653.5 347.5,655.0 351.5,652.8 355.5,646.4 358.5,645.3 362.5,653.9 366.5,660.0 370.5,660.7 373.5,659.1 377.5,660.7 381.5,661.2 385.5,652.3 389.5,653.9 392.5,657.3 396.5,652.3 400.5,654.4 404.5,656.6 407.5,650.5 411.5,644.8 415.5,639.6 419.5,651.2 423.5,651.2 426.5,638.7 430.5,633.1 434.5,631.3 438.5,629.7 441.5,628.3 445.5,637.6 449.5,641.4 453.5,652.8 457.5,653.2 460.5,646.4 464.5,643.7 468.5,638.5 472.5,633.1 476.5,627.9 479.5,626.3 483.5,622.2 487.5,633.5 491.5,626.7 494.5,620.6 498.5,627.4 502.5,631.9 506.5,624.5 510.5,624.5 513.5,631.3 517.5,630.8 521.5,633.5 525.5,632.8 528.5,630.6 532.5,627.4 536.5,640.3 540.5,635.8 544.5,649.4 547.5,660.2 551.5,649.8 555.5,655.0 559.5,641.4 562.5,635.8 566.5,636.5 570.5,635.8 574.5,634.7 578.5,638.7 581.5,642.1 585.5,642.1 589.5,631.9 593.5,631.7 597.5,628.3 600.5,653.2 604.5,652.8 608.5,653.9 612.5,651.6 615.5,646.0 619.5,652.8 623.5,646.7 627.5,641.4 631.5,642.1 634.5,643.7 638.5,647.8 642.5,653.9 646.5,652.8 649.5,651.2 653.5,664.6 657.5,662.3 661.5,663.6 665.5,654.4 668.5,655.0 672.5,653.5 676.5,651.6 680.5,653.9 683.5,651.6 687.5,655.0 691.5,657.3 695.5,644.4 699.5,647.1 702.5,639.2 706.5,635.1 710.5,631.7 714.5,627.9 717.5,632.4 721.5,636.9 725.5,640.8 729.5,633.1 733.5,627.9 736.5,633.1 740.5,632.4 744.5,643.3 748.5,654.4 752.5,649.4 755.5,642.1 759.5,638.5 763.5,642.1 767.5,645.3 770.5,644.8 774.5,645.3 778.5,641.4 782.5,631.3 786.5,633.5 789.5,630.6 793.5,630.1 797.5,620.6 801.5,629.7 804.5,626.0 808.5,625.6 812.5,629.4 816.5,638.7 820.5,641.4 823.5,636.9 827.5,635.3 831.5,638.0 835.5,635.3 838.5,654.6 842.5,671.6 846.5,655.0 850.5,653.9 854.5,661.4 857.5,656.2 861.5,650.5 865.5,646.0 869.5,643.7 873.5,642.1 876.5,635.1 880.5,633.5 884.5,629.0 888.5,629.0 891.5,628.5 895.5,622.2 899.5,621.7 903.5,627.9 907.5,627.4 910.5,620.6 914.5,618.8 918.5,620.6 922.5,624.5 925.5,629.0 929.5,622.9 933.5,622.9 937.5,620.4 941.5,620.6 944.5,627.4 948.5,622.6 952.5,627.9 956.5,643.7 959.5,647.6 963.5,640.8 967.5,639.6 971.5,633.5 975.5,634.7 978.5,629.7 982.5,632.8 986.5,641.9 990.5,650.1 994.5,648.7 997.5,643.3 1001.5,641.0 1005.5,637.6 1009.5,637.6 1012.5,648.9 1016.5,642.6 1020.5,644.8 1024.5,653.9 1028.5,655.7 1031.5,656.9 1035.5,666.4 1039.5,660.7 1043.5,665.2 1046.5,654.4 1050.5,656.6 1054.5,661.2 1058.5,665.9 1062.5,662.3 1065.5,669.3 1069.5,670.2 1073.5,668.6 1077.5,666.4 1080.5,662.3 1084.5,650.5 1088.5,652.8 1092.5,649.4 1096.5,643.7 1099.5,646.0 1103.5,643.7 1107.5,640.3 1111.5,631.3 1115.5,621.5 1118.5,621.1 1122.5,635.8 1126.5,640.8 1130.5,641.0 1133.5,642.6 1137.5,654.4 1141.5,660.7 1145.5,659.1 1149.5,655.0 1152.5,655.0 1156.5,663.6 1160.5,672.7 1164.5,678.4 1167.5,681.1 1171.5,668.6 1175.5,664.1 1179.5,659.1 1183.5,662.5 1186.5,664.8 1190.5,663.0 1194.5,660.2 1198.5,659.6 1201.5,658.0 1205.5,651.6 1209.5,651.6 1213.5,663.0 1217.5,671.6 1220.5,667.0 1224.5,665.7 1228.5,668.6 1232.5,673.6 1235.5,673.6 1239.5,671.3 1243.5,655.0 1247.5,652.3 1251.5,659.6 1254.5,647.8 1258.5,651.0 1262.5,646.4 1266.5,649.4 1270.5,647.1 1273.5,643.7 1277.5,648.7 1281.5,645.5 1285.5,640.8 1288.5,643.7 1292.5,641.0 1296.5,635.3 1300.5,640.3 1304.5,638.0 1307.5,639.6 1311.5,637.6 1315.5,635.1 1319.5,632.4 1322.5,634.2 1326.5,630.8 1330.5,643.7 1334.5,636.9 1338.5,644.4 1341.5,641.4 1345.5,638.5 1349.5,638.5 1353.5,630.6 1356.5,627.9 1360.5,622.6 1364.5,622.6" fill="none" stroke="#7e57c2" stroke-width="1.1" stroke-linejoin="round" stroke-linecap="round"/>
<polyline points="10.0,740.7 66.6,741.1 100.6,740.4 155.0,741.6 168.6,740.4 182.2,741.3 209.3,740.7 225.2,742.2 236.5,741.6 254.6,742.7 293.1,742.5 311.3,741.1 347.5,740.7 350.0,740.7 372.7,741.1 406.6,740.4 422.5,740.0 429.3,738.8 436.1,738.2 451.9,739.3 467.8,738.8 476.8,737.9 485.9,737.5 495.0,736.8 506.3,737.3 517.6,738.2 528.9,739.1 542.5,739.3 547.1,740.2 556.1,740.0 567.5,738.8 576.5,738.4 583.3,739.1 590.1,738.2 596.9,738.4 606.0,739.5 619.6,740.0 628.6,739.3 642.2,740.2 653.5,740.7 667.1,740.4 687.5,740.2 690.0,740.4 701.3,739.3 712.7,738.8 724.0,739.5 733.0,739.1 746.6,740.2 769.3,741.1 780.6,740.4 796.5,739.3 810.1,739.8 825.9,739.3 835.0,739.1 841.8,740.9 848.6,739.8 857.6,739.8 871.2,738.2 882.5,737.3 893.9,736.4 905.2,736.6 912.0,736.1 927.8,736.6 948.2,736.4 957.3,736.8 975.4,736.6 991.3,736.8 1007.1,736.4 1018.4,736.8 1027.5,736.8 1030.0,737.3 1043.6,737.9 1066.2,738.2 1084.4,737.5 1102.5,736.8 1118.3,735.7 1131.9,736.4 1150.1,736.1 1165.9,737.0 1184.0,736.4 1206.7,736.1 1222.5,736.6 1238.4,737.0 1256.5,736.4 1279.2,735.7 1301.8,735.2 1324.5,735.2 1347.1,734.8 1364.0,734.3" fill="none" stroke="#9e9d24" stroke-width="1.1" stroke-linejoin="round" stroke-linecap="round"/>
<path d="M10.0,781.9 L10.0,784.2 L16.8,787.5 L22.5,792.1 L27.0,796.6 L31.5,799.3 L39.4,800.5 L46.2,798.2 L51.9,793.2 L55.3,786.4 L58.7,779.6 L63.2,773.3 L68.9,766.0 L74.6,764.4 L78.0,768.3 L84.8,768.3 L93.8,767.8 L100.6,768.7 L107.4,769.0 L111.9,772.8 L116.5,779.6 L121.0,787.5 L125.5,793.2 L130.1,797.3 L136.8,799.6 L141.4,798.9 L148.2,802.3 L157.2,804.5 L165.2,802.3 L168.6,793.2 L172.0,784.2 L175.4,778.5 L179.9,772.8 L184.4,769.4 L191.2,766.5 L198.0,764.2 L204.8,763.3 L210.5,760.8 L215.0,762.0 L220.7,767.2 L225.2,772.8 L230.9,779.6 L236.5,787.5 L241.0,793.2 L245.6,796.6 L249.0,796.6 L252.4,793.2 L259.2,794.3 L266.0,795.5 L272.8,794.3 L281.8,791.6 L286.3,787.5 L293.1,787.1 L302.2,787.1 L309.0,782.3 L315.8,778.5 L320.3,773.3 L323.7,769.4 L327.1,769.4 L331.7,772.4 L338.4,777.8 L344.1,776.2 L350.0,775.5 L354.5,773.3 L359.1,772.8 L363.6,776.2 L368.1,781.9 L372.7,788.7 L377.2,792.1 L381.7,793.2 L388.5,790.5 L395.3,786.9 L399.8,786.0 L405.5,789.8 L410.0,790.5 L414.6,794.3 L420.2,797.7 L425.9,799.1 L430.4,797.3 L434.9,797.1 L440.6,799.6 L446.3,800.5 L451.9,799.6 L456.5,797.3 L463.3,795.9 L470.1,795.0 L479.1,793.7 L483.6,791.4 L488.2,786.4 L491.6,780.8 L495.0,775.1 L499.5,770.1 L505.2,763.8 L510.8,759.9 L542.5,759.9 L545.9,763.3 L550.5,770.6 L555.0,776.2 L558.4,779.6 L561.8,783.7 L566.3,783.0 L569.7,780.8 L573.1,779.6 L576.5,780.1 L581.0,777.4 L586.7,775.1 L592.4,774.6 L596.9,775.1 L601.4,777.4 L608.2,778.5 L612.8,781.9 L615.0,783.5 L620.7,781.4 L625.2,778.5 L630.9,773.3 L634.3,775.1 L649.0,774.6 L654.7,770.1 L661.5,763.8 L666.0,764.9 L670.5,767.2 L675.0,768.3 L681.8,767.2 L690.0,768.3 L695.7,767.8 L699.1,766.0 L702.5,774.0 L707.0,783.0 L711.5,789.1 L714.9,791.4 L721.7,793.2 L727.4,796.6 L733.0,802.3 L736.4,805.2 L741.0,805.7 L746.6,803.0 L751.2,800.7 L758.0,800.0 L767.0,798.2 L773.8,793.2 L780.6,790.9 L787.4,789.8 L793.1,786.0 L797.6,783.0 L804.4,783.5 L807.8,782.3 L812.3,781.2 L816.8,783.5 L821.4,786.9 L825.9,791.6 L831.6,795.5 L836.1,797.7 L839.5,797.3 L841.8,792.1 L846.3,789.4 L850.8,784.2 L855.4,778.5 L858.8,776.7 L866.7,775.5 L869.4,774.4 L872.3,778.5 L875.7,786.4 L880.3,789.1 L884.8,788.7 L888.2,786.9 L891.6,781.9 L895.0,777.4 L898.4,774.0 L904.1,771.7 L908.6,768.7 L913.1,764.9 L917.6,762.0 L922.2,760.1 L927.8,759.7 L942.6,759.7 L947.1,762.6 L951.6,768.7 L956.2,775.1 L959.6,778.5 L963.0,783.5 L967.5,786.9 L973.1,789.8 L977.7,795.0 L982.2,797.3 L986.7,797.3 L991.3,793.9 L995.8,790.9 L1000.3,789.4 L1004.9,790.5 L1009.4,790.9 L1015.0,792.8 L1019.6,792.8 L1025.2,790.5 L1030.0,786.0 L1032.3,780.8 L1035.7,773.3 L1042.5,766.0 L1050.4,764.2 L1059.4,763.3 L1066.2,761.0 L1071.9,761.5 L1077.6,764.2 L1084.4,768.3 L1091.2,771.0 L1095.7,772.1 L1101.4,769.0 L1107.0,769.4 L1110.4,777.4 L1113.8,787.5 L1117.2,793.2 L1122.9,795.5 L1131.9,798.9 L1138.7,800.5 L1145.5,803.4 L1151.2,803.4 L1156.8,801.1 L1161.4,796.6 L1165.9,791.6 L1170.4,790.9 L1177.2,793.2 L1186.3,797.1 L1193.1,793.9 L1198.8,793.2 L1203.3,787.5 L1206.7,777.4 L1210.1,775.1 L1213.5,775.5 L1218.0,778.9 L1222.5,780.8 L1228.2,780.1 L1233.9,785.3 L1238.4,792.1 L1242.9,794.8 L1247.5,792.1 L1250.9,791.6 L1254.3,786.9 L1258.8,784.6 L1264.4,781.9 L1270.1,776.2 L1275.8,770.6 L1281.4,764.9 L1287.1,762.2 L1292.8,763.8 L1298.4,768.3 L1304.1,774.0 L1308.6,781.4 L1313.1,790.9 L1317.7,798.2 L1324.5,802.3 L1331.3,804.1 L1338.1,805.7 L1344.9,805.7 L1351.7,804.1 L1358.4,802.3 L1364.0,801.4 L1364.0,781.9 Z" fill="#2962ff"/>
<text x="10.5" y="19.0" font-size="12" fill="#131722" text-anchor="start" textLength="55.3" lengthAdjust="spacingAndGlyphs">ivanbrian9</text>
<text x="70.0" y="19.0" font-size="12" fill="#131722" text-anchor="start" textLength="49.9" lengthAdjust="spacingAndGlyphs">published</text>
<text x="124.9" y="19.0" font-size="12" fill="#131722" text-anchor="start" textLength="12.5" lengthAdjust="spacingAndGlyphs">on</text>
<text x="142.4" y="19.0" font-size="12" fill="#131722" text-anchor="start" textLength="92.9" lengthAdjust="spacingAndGlyphs">TradingView.com,</text>
<text x="239.7" y="19.0" font-size="12" fill="#131722" text-anchor="start" textLength="18.9" lengthAdjust="spacingAndGlyphs">Sep</text>
<text x="263.7" y="19.0" font-size="12" fill="#131722" text-anchor="start" textLength="14.9" lengthAdjust="spacingAndGlyphs">16,</text>
<text x="283.7" y="19.0" font-size="12" fill="#131722" text-anchor="start" textLength="23.6" lengthAdjust="spacingAndGlyphs">2022</text>
<text x="312.6" y="19.0" font-size="12" fill="#131722" text-anchor="start" textLength="28.0" lengthAdjust="spacingAndGlyphs">11:18</text>
<text x="345.9" y="19.0" font-size="12" fill="#131722" text-anchor="start" textLength="32.6" lengthAdjust="spacingAndGlyphs">UTC+1</text>
<text x="18.3" y="46.0" font-size="12" fill="#131722" text-anchor="start" textLength="69.1" lengthAdjust="spacingAndGlyphs">100-GEZ2023,</text>
<text x="96.6" y="46.0" font-size="12" fill="#131722" text-anchor="start" textLength="14.5" lengthAdjust="spacingAndGlyphs">1D,</text>
<text x="117.9" y="46.0" font-size="12" fill="#131722" text-anchor="start" textLength="21.2" lengthAdjust="spacingAndGlyphs">CME</text>
<text x="146.9" y="46.0" font-size="12" fill="#131722" text-anchor="start" textLength="8.0" lengthAdjust="spacingAndGlyphs">O</text>
<text x="154.9" y="46.0" font-size="12" fill="#26a69a" text-anchor="start" textLength="29.1" lengthAdjust="spacingAndGlyphs">4.200</text>
<text x="192.0" y="46.0" font-size="12" fill="#131722" text-anchor="start" textLength="7.3" lengthAdjust="spacingAndGlyphs">H</text>
<text x="199.3" y="46.0" font-size="12" fill="#26a69a" text-anchor="start" textLength="29.3" lengthAdjust="spacingAndGlyphs">4.240</text>
<text x="237.0" y="46.0" font-size="12" fill="#131722" text-anchor="start" textLength="5.3" lengthAdjust="spacingAndGlyphs">L</text>
<text x="242.3" y="46.0" font-size="12" fill="#26a69a" text-anchor="start" textLength="28.8" lengthAdjust="spacingAndGlyphs">4.185</text>
<text x="279.5" y="46.0" font-size="12" fill="#131722" text-anchor="start" textLength="6.8" lengthAdjust="spacingAndGlyphs">C</text>
<text x="286.3" y="46.0" font-size="12" fill="#26a69a" text-anchor="start" textLength="28.8" lengthAdjust="spacingAndGlyphs">4.225</text>
<text x="323.9" y="46.0" font-size="12" fill="#26a69a" text-anchor="start" textLength="34.1" lengthAdjust="spacingAndGlyphs">+0.020</text>
<text x="363.6" y="46.0" font-size="12" fill="#26a69a" text-anchor="start" textLength="43.9" lengthAdjust="spacingAndGlyphs">(+0.48%)</text>
<text x="18.3" y="63.0" font-size="12" fill="#131722" text-anchor="start" textLength="25.8" lengthAdjust="spacingAndGlyphs">VRVP</text>
<text x="50.0" y="63.0" font-size="12" fill="#131722" text-anchor="start" textLength="44.1" lengthAdjust="spacingAndGlyphs">(Number</text>
<text x="99.9" y="63.0" font-size="12" fill="#131722" text-anchor="start" textLength="10.9" lengthAdjust="spacingAndGlyphs">Of</text>
<text x="115.8" y="63.0" font-size="12" fill="#131722" text-anchor="start" textLength="26.6" lengthAdjust="spacingAndGlyphs">Rows,</text>
<text x="150.4" y="63.0" font-size="12" fill="#131722" text-anchor="start" textLength="12.8" lengthAdjust="spacingAndGlyphs">24,</text>
<text x="171.6" y="63.0" font-size="12" fill="#131722" text-anchor="start" textLength="25.8" lengthAdjust="spacingAndGlyphs">Total,</text>
<text x="205.7" y="63.0" font-size="12" fill="#131722" text-anchor="start" textLength="15.5" lengthAdjust="spacingAndGlyphs">70)</text>
<text x="230.4" y="63.0" font-size="12" fill="#e6e7ea" text-anchor="start" textLength="41.1" lengthAdjust="spacingAndGlyphs">100.83K</text>
<text x="18.3" y="80.0" font-size="12" fill="#131722" text-anchor="start" textLength="34.2" lengthAdjust="spacingAndGlyphs">LinReg</text>
<text x="57.8" y="80.0" font-size="12" fill="#131722" text-anchor="start" textLength="25.5" lengthAdjust="spacingAndGlyphs">(250,</text>
<text x="88.3" y="80.0" font-size="12" fill="#131722" text-anchor="start" textLength="28.3" lengthAdjust="spacingAndGlyphs">close,</text>
<text x="124.1" y="80.0" font-size="12" fill="#131722" text-anchor="start" textLength="7.5" lengthAdjust="spacingAndGlyphs">2,</text>
<text x="139.1" y="80.0" font-size="12" fill="#131722" text-anchor="start" textLength="8.8" lengthAdjust="spacingAndGlyphs">2)</text>
<text x="18.3" y="96.5" font-size="12" fill="#131722" text-anchor="start" textLength="34.2" lengthAdjust="spacingAndGlyphs">US10Y,</text>
<text x="58.3" y="96.5" font-size="12" fill="#131722" text-anchor="start" textLength="19.2" lengthAdjust="spacingAndGlyphs">TVC</text>
<text x="85.8" y="96.5" font-size="12" fill="#f57c00" text-anchor="start" textLength="35.8" lengthAdjust="spacingAndGlyphs">3.471%</text>
<text x="130.3" y="96.5" font-size="12" fill="#f57c00" text-anchor="start" textLength="40.9" lengthAdjust="spacingAndGlyphs">+0.018%</text>
<text x="178.2" y="96.5" font-size="12" fill="#f57c00" text-anchor="start" textLength="43.0" lengthAdjust="spacingAndGlyphs">(+0.52%)</text>
<text x="18.4" y="635.0" font-size="12" fill="#131722" text-anchor="start" textLength="15.1" lengthAdjust="spacingAndGlyphs">RSI</text>
<text x="38.9" y="635.0" font-size="12" fill="#131722" text-anchor="start" textLength="19.0" lengthAdjust="spacingAndGlyphs">(14,</text>
<text x="62.8" y="635.0" font-size="12" fill="#131722" text-anchor="start" textLength="31.3" lengthAdjust="spacingAndGlyphs">close)</text>
<text x="101.9" y="635.0" font-size="12" fill="#7e57c2" text-anchor="start" textLength="29.3" lengthAdjust="spacingAndGlyphs">75.26</text>
<text x="18.1" y="727.0" font-size="12" fill="#131722" text-anchor="start" textLength="61.9" lengthAdjust="spacingAndGlyphs">Accum/Dist</text>
<text x="87.9" y="727.0" font-size="12" fill="#9e9d24" text-anchor="start" textLength="37.5" lengthAdjust="spacingAndGlyphs">2.235M</text>
<text x="18.1" y="779.0" font-size="12" fill="#131722" text-anchor="start" textLength="13.4" lengthAdjust="spacingAndGlyphs">CC</text>
<text x="37.0" y="779.0" font-size="12" fill="#131722" text-anchor="start" textLength="28.5" lengthAdjust="spacingAndGlyphs">(NDX,</text>
<text x="70.0" y="779.0" font-size="12" fill="#131722" text-anchor="start" textLength="28.9" lengthAdjust="spacingAndGlyphs">close,</text>
<text x="105.9" y="779.0" font-size="12" fill="#131722" text-anchor="start" textLength="15.5" lengthAdjust="spacingAndGlyphs">20)</text>
<text x="130.4" y="779.0" font-size="12" fill="#2962ff" text-anchor="start" textLength="27.5" lengthAdjust="spacingAndGlyphs">−0.76</text>
<text x="1377.3" y="44.8" font-size="12" fill="#131722" text-anchor="start" textLength="20.7" lengthAdjust="spacingAndGlyphs">USD</text>
<text x="1442.8" y="44.8" font-size="12" fill="#131722" text-anchor="start" textLength="17.2" lengthAdjust="spacingAndGlyphs">pct</text>
<text x="1377.3" y="69.9" font-size="12" fill="#131722" text-anchor="start" textLength="28.6" lengthAdjust="spacingAndGlyphs">4.250</text>
<text x="1377.3" y="105.9" font-size="12" fill="#131722" text-anchor="start" textLength="28.6" lengthAdjust="spacingAndGlyphs">4.000</text>
<text x="1377.3" y="140.9" font-size="12" fill="#131722" text-anchor="start" textLength="28.6" lengthAdjust="spacingAndGlyphs">3.750</text>
<text x="1377.3" y="176.9" font-size="12" fill="#131722" text-anchor="start" textLength="28.6" lengthAdjust="spacingAndGlyphs">3.500</text>
<text x="1377.3" y="211.9" font-size="12" fill="#131722" text-anchor="start" textLength="28.6" lengthAdjust="spacingAndGlyphs">3.250</text>
<text x="1377.3" y="246.9" font-size="12" fill="#131722" text-anchor="start" textLength="28.6" lengthAdjust="spacingAndGlyphs">3.000</text>
<text x="1377.3" y="282.9" font-size="12" fill="#131722" text-anchor="start" textLength="28.6" lengthAdjust="spacingAndGlyphs">2.750</text>
<text x="1377.3" y="317.9" font-size="12" fill="#131722" text-anchor="start" textLength="28.6" lengthAdjust="spacingAndGlyphs">2.500</text>
<text x="1377.3" y="353.9" font-size="12" fill="#131722" text-anchor="start" textLength="28.6" lengthAdjust="spacingAndGlyphs">2.250</text>
<text x="1377.3" y="388.9" font-size="12" fill="#131722" text-anchor="start" textLength="28.6" lengthAdjust="spacingAndGlyphs">2.000</text>
<text x="1377.3" y="424.9" font-size="12" fill="#131722" text-anchor="start" textLength="28.6" lengthAdjust="spacingAndGlyphs">1.750</text>
<text x="1377.3" y="459.9" font-size="12" fill="#131722" text-anchor="start" textLength="28.6" lengthAdjust="spacingAndGlyphs">1.500</text>
<text x="1377.3" y="494.9" font-size="12" fill="#131722" text-anchor="start" textLength="28.6" lengthAdjust="spacingAndGlyphs">1.250</text>
<text x="1377.3" y="530.9" font-size="12" fill="#131722" text-anchor="start" textLength="28.6" lengthAdjust="spacingAndGlyphs">1.000</text>
<text x="1377.3" y="565.9" font-size="12" fill="#131722" text-anchor="start" textLength="28.6" lengthAdjust="spacingAndGlyphs">0.750</text>
<text x="1377.3" y="600.9" font-size="12" fill="#131722" text-anchor="start" textLength="28.6" lengthAdjust="spacingAndGlyphs">0.500</text>
<text x="1442.8" y="72.1" font-size="12" fill="#131722" text-anchor="start" textLength="37.0" lengthAdjust="spacingAndGlyphs">3.400%</text>
<text x="1442.8" y="119.2" font-size="12" fill="#131722" text-anchor="start" textLength="37.0" lengthAdjust="spacingAndGlyphs">3.200%</text>
<text x="1442.8" y="166.3" font-size="12" fill="#131722" text-anchor="start" textLength="37.0" lengthAdjust="spacingAndGlyphs">3.000%</text>
<text x="1442.8" y="213.4" font-size="12" fill="#131722" text-anchor="start" textLength="37.0" lengthAdjust="spacingAndGlyphs">2.800%</text>
<text x="1442.8" y="260.5" font-size="12" fill="#131722" text-anchor="start" textLength="37.0" lengthAdjust="spacingAndGlyphs">2.600%</text>
<text x="1442.8" y="307.6" font-size="12" fill="#131722" text-anchor="start" textLength="37.0" lengthAdjust="spacingAndGlyphs">2.400%</text>
<text x="1442.8" y="354.6" font-size="12" fill="#131722" text-anchor="start" textLength="37.0" lengthAdjust="spacingAndGlyphs">2.200%</text>
<text x="1442.8" y="401.7" font-size="12" fill="#131722" text-anchor="start" textLength="37.0" lengthAdjust="spacingAndGlyphs">2.000%</text>
<text x="1442.8" y="448.8" font-size="12" fill="#131722" text-anchor="start" textLength="37.0" lengthAdjust="spacingAndGlyphs">1.800%</text>
<text x="1442.8" y="495.9" font-size="12" fill="#131722" text-anchor="start" textLength="37.0" lengthAdjust="spacingAndGlyphs">1.600%</text>
<text x="1442.8" y="543.0" font-size="12" fill="#131722" text-anchor="start" textLength="37.0" lengthAdjust="spacingAndGlyphs">1.400%</text>
<text x="1442.8" y="590.1" font-size="12" fill="#131722" text-anchor="start" textLength="37.0" lengthAdjust="spacingAndGlyphs">1.200%</text>
<text x="1377.3" y="626.9" font-size="12" fill="#131722" text-anchor="start" textLength="29.5" lengthAdjust="spacingAndGlyphs">75.00</text>
<text x="1377.3" y="660.9" font-size="12" fill="#131722" text-anchor="start" textLength="29.5" lengthAdjust="spacingAndGlyphs">50.00</text>
<text x="1377.3" y="694.9" font-size="12" fill="#131722" text-anchor="start" textLength="29.5" lengthAdjust="spacingAndGlyphs">25.00</text>
<text x="1377.3" y="744.3" font-size="12" fill="#131722" text-anchor="start" textLength="6.0" lengthAdjust="spacingAndGlyphs">0</text>
<text x="1377.3" y="787.0" font-size="12" fill="#131722" text-anchor="start" textLength="23.0" lengthAdjust="spacingAndGlyphs">0.00</text>
<text x="119.0" y="823.8" font-size="12" fill="#131722" text-anchor="start" textLength="18.3" lengthAdjust="spacingAndGlyphs">Jun</text>
<text x="203.3" y="823.8" font-size="12" fill="#131722" text-anchor="start" textLength="15.7" lengthAdjust="spacingAndGlyphs">Jul</text>
<text x="363.7" y="823.8" font-size="12" fill="#131722" text-anchor="start" textLength="19.0" lengthAdjust="spacingAndGlyphs">Sep</text>
<text x="522.3" y="823.8" font-size="12" fill="#131722" text-anchor="start" textLength="20.0" lengthAdjust="spacingAndGlyphs">Nov</text>
<text x="681.5" y="823.8" font-size="12" fill="#131722" text-anchor="start" textLength="27.4" lengthAdjust="spacingAndGlyphs" font-weight="bold">2022</text>
<text x="832.1" y="823.8" font-size="12" fill="#131722" text-anchor="start" textLength="19.3" lengthAdjust="spacingAndGlyphs">Mar</text>
<text x="919.7" y="823.8" font-size="12" fill="#131722" text-anchor="start" textLength="19.0" lengthAdjust="spacingAndGlyphs">Apr</text>
<text x="1075.1" y="823.8" font-size="12" fill="#131722" text-anchor="start" textLength="18.3" lengthAdjust="spacingAndGlyphs">Jun</text>
<text x="1229.2" y="823.8" font-size="12" fill="#131722" text-anchor="start" textLength="20.1" lengthAdjust="spacingAndGlyphs">Aug</text>
<text x="1316.7" y="823.8" font-size="12" fill="#131722" text-anchor="start" textLength="19.2" lengthAdjust="spacingAndGlyphs">Sep</text>
<circle cx="1400" cy="819.8" r="10.3" fill="#f0f1f5"/>
<text x="1400.0" y="823.2" font-size="11" fill="#4a4e5d" text-anchor="middle">A</text>
<circle cx="1462" cy="819.8" r="10.3" fill="#f0f1f5"/>
<text x="1462.0" y="823.2" font-size="11" fill="#4a4e5d" text-anchor="middle">B</text>
<g fill="#131722" transform="translate(10,846.2)"><path d="M0 0H8.2V9.7H4V3.6H0z"/><circle cx="11.2" cy="1.8" r="1.8"/><path d="M14.3 0H19.8L15.6 9.7H11.2z"/></g>
<text x="33.2" y="855.9" font-size="13" fill="#1e2232" text-anchor="start" textLength="69.9" lengthAdjust="spacingAndGlyphs">TradingView</text></svg></body></html>
